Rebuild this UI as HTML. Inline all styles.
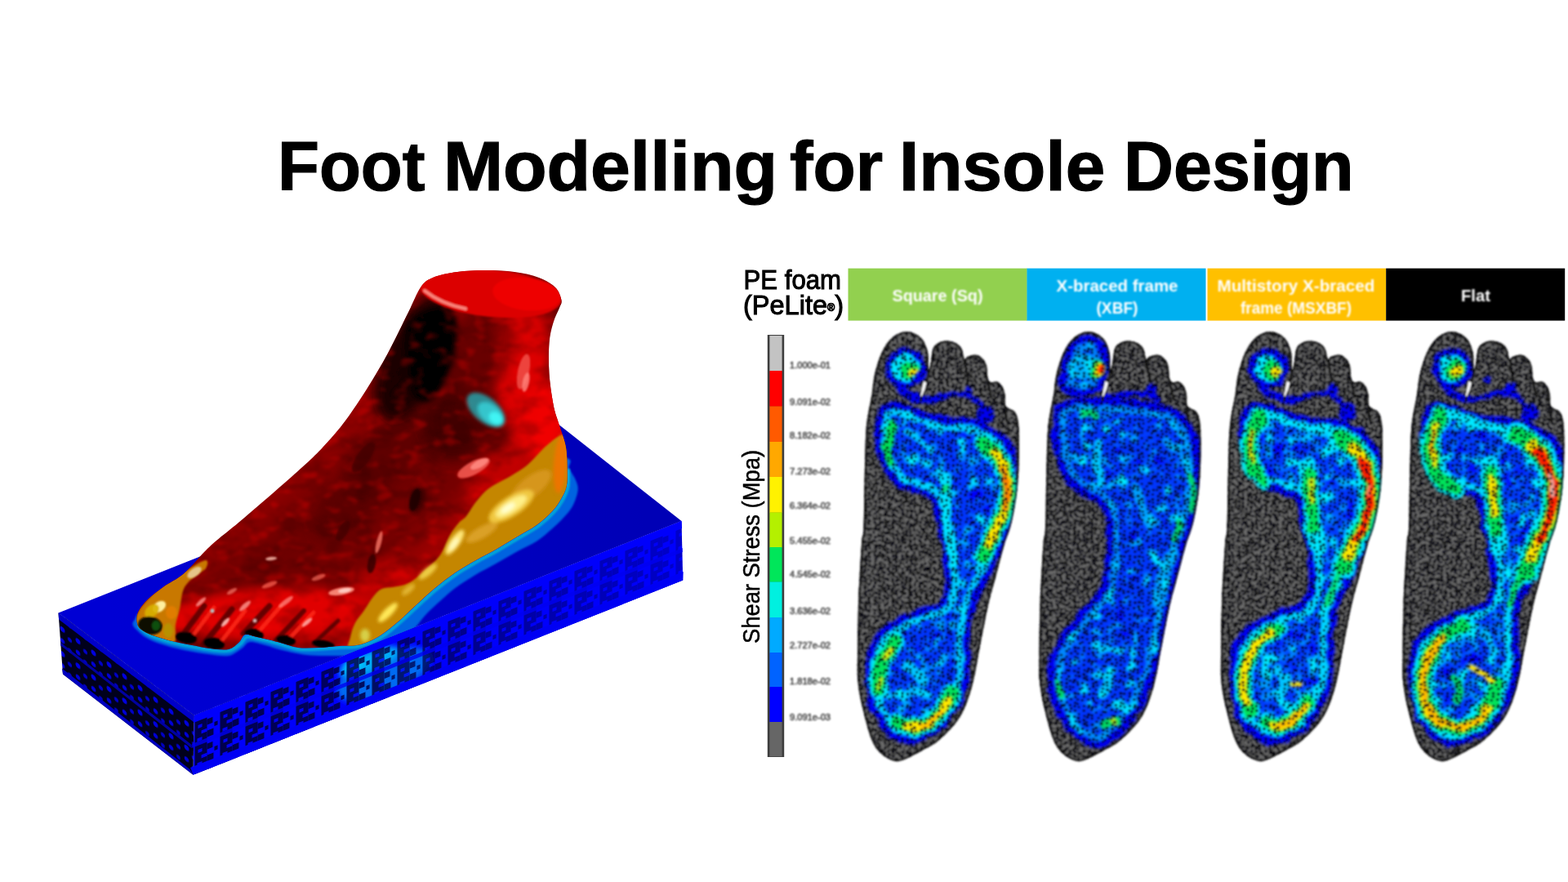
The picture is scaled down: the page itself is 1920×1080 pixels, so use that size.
<!DOCTYPE html>
<html lang="en">
<head>
<meta charset="utf-8">
<title>Foot Modelling for Insole Design</title>
<style>
html,body{margin:0;padding:0;background:#fff;}
body{width:1920px;height:1080px;position:relative;overflow:hidden;font-family:"Liberation Sans",sans-serif;}
svg{position:absolute;left:0;top:0;}

.title{position:absolute;left:0;top:0;width:1920px;height:300px;margin:0;font-weight:700;font-size:84.8px;line-height:100px;color:#000;white-space:pre;-webkit-text-stroke:1.2px #000;}
.title span{position:absolute;top:154.25px;display:block;transform-origin:0 0;}

</style>
</head>
<body>
<h1 class="title"><span style="left:340.08px;transform:scaleX(0.9832)">Foot </span><span style="left:543.09px;transform:scaleX(1.0337)">Modelling </span><span style="left:966.50px;transform:scaleX(1.0090)">for </span><span style="left:1101.11px;transform:scaleX(1.0294)">Insole </span><span style="left:1375.52px;transform:scaleX(0.9963)">Design</span></h1>
<svg width="1920" height="1080" viewBox="0 0 1920 1080">
<defs>

<linearGradient id="topg" gradientUnits="userSpaceOnUse" x1="150" y1="800" x2="780" y2="600">
<stop offset="0" stop-color="#0000d4"/><stop offset="0.45" stop-color="#0000c8"/><stop offset="1" stop-color="#0000b6"/></linearGradient>
<filter id="lb05" filterUnits="userSpaceOnUse" x="0" y="300" width="900" height="700"><feGaussianBlur stdDeviation="0.6"/></filter>
<filter id="lb1" filterUnits="userSpaceOnUse" x="0" y="300" width="900" height="700"><feGaussianBlur stdDeviation="1.0"/></filter>
<filter id="lb2" filterUnits="userSpaceOnUse" x="0" y="300" width="900" height="700"><feGaussianBlur stdDeviation="2"/></filter>
<filter id="lb3" filterUnits="userSpaceOnUse" x="0" y="300" width="900" height="700"><feGaussianBlur stdDeviation="3.5"/></filter>
<filter id="lb4" filterUnits="userSpaceOnUse" x="0" y="300" width="900" height="700"><feGaussianBlur stdDeviation="7"/></filter>
<filter id="lb6" filterUnits="userSpaceOnUse" x="0" y="300" width="900" height="700"><feGaussianBlur stdDeviation="16"/></filter>
<pattern id="latF" width="31" height="30" patternUnits="userSpaceOnUse" patternTransform="matrix(1,-0.3985,0,1,237.5,885)">
<g fill="#000048">
<path d="M1,0 h15 v30 h-15 z"/>
<path d="M16,2 h7 v7 h-7 z M16,16 h8 v8 h-8 z M25,9 h4 v5 h-4 z"/>
</g>
<g fill="#0000f0"><path d="M5,5 h5 v4 h-5 z M9,13 h7 v4 h-7 z M4,21 h6 v4 h-6 z"/></g>
</pattern>
<linearGradient id="fmaskg" gradientUnits="userSpaceOnUse" x1="240" y1="900" x2="840" y2="680">
<stop offset="0" stop-color="#fff" stop-opacity="1"/><stop offset="0.35" stop-color="#fff" stop-opacity="0.85"/><stop offset="0.7" stop-color="#fff" stop-opacity="0.45"/><stop offset="1" stop-color="#fff" stop-opacity="0.28"/></linearGradient>
<mask id="fmask" maskUnits="userSpaceOnUse" x="200" y="600" width="680" height="380"><rect x="200" y="600" width="680" height="380" fill="url(#fmaskg)"/></mask>
<pattern id="latL" width="19" height="30" patternUnits="userSpaceOnUse" patternTransform="matrix(1,0.756,0,1,71.5,759)">
<rect width="19" height="30" fill="#00001c"/>
<circle cx="5" cy="8" r="3" fill="#0000e0"/><circle cx="14" cy="14" r="2.6" fill="#0000c8"/><circle cx="5" cy="22" r="2.8" fill="#0000d8"/><circle cx="14" cy="27" r="2.4" fill="#0000c0"/>
</pattern>

<clipPath id="frontclip"><path d="M237.5,876.0 L834.5,638.0 L836.2,710.5 L236.5,948.8Z"/></clipPath>
<clipPath id="topclip"><path d="M71.5,750.5 L673.0,511.0 L834.5,638.0 L237.5,876.0Z"/></clipPath>
<clipPath id="foot3dclip"><path d="M515.0,352.0 C510.0,359.1 506.7,369.1 500.0,382.5 C493.3,395.9 483.3,417.1 475.0,432.5 C466.7,447.9 458.7,461.2 450.0,475.0 C441.3,488.8 431.3,503.8 423.0,515.0 C414.7,526.2 407.2,534.5 400.0,542.5 C392.8,550.5 388.3,555.1 380.0,563.0 C371.7,570.9 360.0,581.2 350.0,590.0 C340.0,598.8 329.7,607.7 320.0,616.0 C310.3,624.3 301.2,632.3 292.0,640.0 C282.8,647.7 272.0,656.0 265.0,662.0 C258.0,668.0 256.7,669.2 250.0,676.0 C243.3,682.8 233.3,695.4 225.0,702.5 C216.7,709.6 207.3,713.5 200.0,718.8 C192.7,724.0 185.8,729.2 181.0,733.8 C176.2,738.3 173.2,742.3 171.0,746.0 C168.8,749.7 167.7,752.3 167.5,756.0 C167.3,759.7 167.6,764.7 170.0,768.0 C172.4,771.3 177.0,773.7 182.0,776.0 C187.0,778.3 194.5,780.3 200.0,782.0 C205.5,783.7 209.2,784.7 215.0,786.0 C220.8,787.3 227.9,788.7 235.0,790.0 C242.1,791.3 250.0,793.2 257.5,794.0 C265.0,794.8 274.1,796.3 280.0,795.0 C285.9,793.7 289.7,789.0 293.0,786.0 C296.3,783.0 296.3,778.0 300.0,777.0 C303.7,776.0 308.3,778.5 315.0,780.0 C321.7,781.5 331.7,783.8 340.0,786.0 C348.3,788.2 356.7,791.8 365.0,793.0 C373.3,794.2 381.7,793.3 390.0,793.0 C398.3,792.7 407.2,791.5 415.0,791.0 C422.8,790.5 430.3,791.2 437.0,790.0 C443.7,788.8 449.5,786.5 455.0,784.0 C460.5,781.5 464.4,779.0 470.0,775.0 C475.6,771.0 482.5,765.4 488.8,760.0 C495.0,754.6 500.2,749.2 507.5,742.5 C514.8,735.8 524.2,726.9 532.5,720.0 C540.8,713.1 549.2,706.7 557.5,701.0 C565.8,695.3 574.2,690.8 582.5,686.0 C590.8,681.2 599.2,677.2 607.5,672.5 C615.8,667.8 624.2,662.5 632.5,657.5 C640.8,652.5 650.2,647.8 657.5,642.5 C664.8,637.2 671.2,631.0 676.0,626.0 C680.8,621.0 683.0,617.7 686.0,612.5 C689.0,607.3 692.3,602.1 693.8,595.0 C695.2,587.9 694.6,577.8 694.5,570.0 C694.4,562.2 694.1,554.7 693.0,548.0 C691.9,541.3 689.7,535.5 688.0,530.0 C686.3,524.5 684.8,520.8 683.0,515.0 C681.2,509.2 679.2,504.6 677.5,495.0 C675.8,485.4 673.3,470.0 672.5,457.5 C671.7,445.0 671.7,430.4 672.5,420.0 C673.3,409.6 675.4,402.2 677.5,395.0 C679.6,387.8 683.3,381.6 685.0,377.0 C686.7,372.4 688.3,371.7 687.5,367.5 C686.7,363.3 684.6,356.6 680.0,352.0 C675.4,347.4 668.3,343.2 660.0,340.0 C651.7,336.8 640.8,334.5 630.0,333.0 C619.2,331.5 606.7,331.0 595.0,331.0 C583.3,331.0 570.8,331.5 560.0,333.0 C549.2,334.5 537.5,336.8 530.0,340.0 C522.5,343.2 520.0,344.9 515.0,352.0Z"/></clipPath>

<linearGradient id="footg" gradientUnits="userSpaceOnUse" x1="330" y1="560" x2="520" y2="780">
<stop offset="0" stop-color="#b00000"/><stop offset="0.12" stop-color="#900000"/><stop offset="0.3" stop-color="#6c0000"/><stop offset="0.6" stop-color="#760000"/><stop offset="0.85" stop-color="#b80000"/><stop offset="1" stop-color="#d40000"/></linearGradient>
<filter id="rough" filterUnits="userSpaceOnUse" x="150" y="320" width="560" height="490" color-interpolation-filters="sRGB">
<feTurbulence type="fractalNoise" baseFrequency="0.035 0.06" numOctaves="3" seed="4" result="n"/>
<feColorMatrix in="n" type="matrix" values="0 0 0 0 0.1  0 0 0 0 0  0 0 0 0 0  3.5 0 0 0 -1.55"/>
<feGaussianBlur stdDeviation="1.6"/>
</filter>
<filter id="rough2" filterUnits="userSpaceOnUse" x="150" y="320" width="560" height="490" color-interpolation-filters="sRGB">
<feTurbulence type="fractalNoise" baseFrequency="0.05 0.08" numOctaves="2" seed="9" result="n"/>
<feColorMatrix in="n" type="matrix" values="0 0 0 0 1  0 0 0 0 0.05  0 0 0 0 0.02  0 4 0 0 -2.1"/>
<feGaussianBlur stdDeviation="1.6"/>
</filter>

<clipPath id="footclip"><path d="M1067.5,483.5 C1069.2,473.1 1068.9,467.2 1071.0,458.5 C1073.1,449.8 1076.4,438.5 1080.0,431.0 C1083.6,423.5 1087.5,417.7 1092.5,413.5 C1097.5,409.3 1104.2,406.0 1110.0,406.0 C1115.8,406.0 1123.2,409.3 1127.5,413.5 C1131.8,417.7 1134.4,424.6 1136.0,431.0 C1137.6,437.4 1136.4,449.5 1137.0,452.0 C1137.6,454.5 1138.6,450.2 1139.5,446.0 C1140.4,441.8 1140.8,431.4 1142.5,427.0 C1144.2,422.6 1147.1,421.1 1150.0,419.5 C1152.9,417.9 1156.7,417.4 1160.0,417.5 C1163.3,417.6 1167.1,418.4 1170.0,420.0 C1172.9,421.6 1175.7,423.7 1177.5,427.0 C1179.3,430.3 1179.8,438.4 1181.0,440.0 C1182.2,441.6 1182.7,437.4 1185.0,436.5 C1187.3,435.6 1192.0,434.1 1195.0,434.5 C1198.0,434.9 1200.8,436.8 1203.0,439.0 C1205.2,441.2 1206.9,444.0 1208.0,448.0 C1209.1,452.0 1208.7,459.7 1209.5,463.0 C1210.3,466.3 1211.1,467.2 1213.0,468.0 C1214.9,468.8 1218.7,466.7 1221.0,467.5 C1223.3,468.3 1225.4,470.4 1227.0,473.0 C1228.6,475.6 1229.8,479.2 1230.5,483.0 C1231.2,486.8 1230.1,493.1 1231.0,496.0 C1231.9,498.9 1234.0,499.0 1236.0,500.5 C1238.0,502.0 1241.2,502.1 1243.0,505.0 C1244.8,507.9 1246.2,511.3 1247.0,518.0 C1247.8,524.7 1247.9,536.2 1248.0,545.0 C1248.1,553.8 1247.8,562.5 1247.5,571.0 C1247.2,579.5 1246.8,587.7 1246.0,596.0 C1245.2,604.3 1244.0,612.7 1242.5,621.0 C1241.0,629.3 1239.1,638.5 1237.0,646.0 C1234.9,653.5 1232.8,656.4 1230.0,666.0 C1227.2,675.6 1223.3,691.0 1220.0,703.5 C1216.7,716.0 1213.3,726.4 1210.0,741.0 C1206.7,755.6 1203.3,774.3 1200.0,791.0 C1196.7,807.7 1194.2,826.4 1190.0,841.0 C1185.8,855.6 1181.7,867.7 1175.0,878.5 C1168.3,889.3 1157.5,899.3 1150.0,906.0 C1142.5,912.7 1137.5,914.3 1130.0,918.5 C1122.5,922.7 1111.2,928.9 1105.0,931.0 C1098.8,933.1 1097.0,932.5 1092.5,931.0 C1088.0,929.5 1082.2,926.3 1078.0,922.0 C1073.8,917.7 1070.7,914.3 1067.0,905.0 C1063.3,895.7 1058.8,877.7 1056.0,866.0 C1053.2,854.3 1051.5,845.4 1050.5,835.0 C1049.5,824.6 1049.9,819.2 1050.0,803.5 C1050.1,787.8 1050.2,763.9 1051.0,741.0 C1051.8,718.1 1053.9,681.8 1055.0,666.0 C1056.1,650.2 1056.8,661.8 1057.5,646.0 C1058.2,630.2 1058.4,591.8 1059.0,571.0 C1059.6,550.2 1059.6,535.6 1061.0,521.0 C1062.4,506.4 1065.8,493.9 1067.5,483.5Z"/></clipPath>
<clipPath id="cclip0"><path d="M1083.9,504.4 L1082.4,507.3 L1080.1,517.4 L1079.0,532.4 L1080.9,550.5 L1085.4,566.6 L1093.1,579.4 L1103.1,589.0 L1112.7,594.2 L1138.3,602.1 L1143.9,606.1 L1148.0,611.6 L1151.2,619.6 L1153.0,637.1 L1160.4,664.5 L1165.5,709.4 L1165.1,719.9 L1162.8,729.4 L1159.7,736.3 L1155.6,741.7 L1149.0,746.1 L1135.5,750.0 L1110.6,759.7 L1090.8,770.6 L1083.0,776.7 L1077.5,783.5 L1073.3,791.5 L1070.2,800.5 L1068.1,817.5 L1068.6,842.0 L1071.0,857.2 L1076.1,872.2 L1083.5,885.2 L1092.7,895.1 L1104.9,902.3 L1110.0,903.6 L1116.2,903.9 L1122.8,902.2 L1134.9,896.7 L1142.8,891.5 L1149.0,886.1 L1157.5,876.6 L1163.3,868.7 L1170.4,856.3 L1175.6,844.2 L1178.7,833.4 L1180.4,822.2 L1180.3,777.6 L1183.6,752.0 L1190.6,730.2 L1209.7,693.7 L1223.3,662.0 L1228.7,646.1 L1233.6,626.3 L1236.5,605.6 L1237.6,584.2 L1236.9,563.6 L1234.0,550.5 L1228.1,541.4 L1215.9,532.1 L1199.5,523.3 L1184.0,519.6 L1159.9,518.3 L1145.3,515.8 L1130.4,511.5 L1112.1,503.5 L1100.1,500.3 L1091.6,500.2 L1087.8,501.6Z"/></clipPath>
<clipPath id="cclip1"><path d="M1076.8,500.3 L1074.4,514.0 L1074.3,538.8 L1077.2,557.6 L1082.6,574.3 L1088.8,585.1 L1096.8,593.6 L1106.0,600.3 L1120.3,607.2 L1131.7,617.1 L1136.5,625.6 L1139.5,640.0 L1140.1,651.3 L1138.2,687.7 L1136.7,705.1 L1134.4,714.9 L1130.5,723.3 L1122.4,734.8 L1098.1,762.9 L1078.3,789.5 L1071.1,806.5 L1068.2,823.1 L1068.2,837.4 L1070.9,853.0 L1075.6,865.8 L1084.0,881.1 L1092.1,892.7 L1100.8,900.4 L1112.5,906.5 L1121.0,908.3 L1128.1,905.9 L1140.1,897.7 L1148.7,890.1 L1156.7,881.1 L1164.1,870.4 L1172.5,855.2 L1179.9,839.0 L1184.9,825.2 L1194.0,791.9 L1211.1,712.7 L1222.5,670.3 L1230.3,647.9 L1232.9,636.3 L1236.4,614.6 L1238.5,593.3 L1239.0,568.7 L1238.0,550.8 L1235.2,534.7 L1229.8,524.2 L1218.0,511.4 L1212.9,507.9 L1206.5,505.0 L1190.6,501.2 L1162.6,497.3 L1109.1,494.1 L1094.9,494.5 L1079.4,498.8Z"/><path d="M1082.4,473.1 L1086.7,475.2 L1093.5,476.8 L1105.9,476.6 L1116.6,473.9 L1119.8,471.7 L1123.4,467.5 L1127.1,456.5 L1128.0,442.7 L1125.2,430.6 L1121.8,423.5 L1119.3,420.5 L1112.6,418.2 L1105.0,418.7 L1099.3,421.4 L1092.7,428.8 L1088.3,436.8 L1084.7,448.1Z"/></clipPath>
<clipPath id="cclip2"><path d="M1083.9,504.4 L1082.4,507.3 L1080.0,517.5 L1079.0,529.7 L1081.7,547.6 L1086.9,566.7 L1094.6,579.4 L1104.6,589.0 L1114.2,594.2 L1139.8,602.1 L1145.4,606.1 L1149.5,611.6 L1152.7,619.6 L1154.5,637.1 L1161.9,664.5 L1165.6,703.2 L1165.8,713.9 L1163.6,726.3 L1160.1,735.5 L1155.6,741.7 L1149.0,746.1 L1135.5,750.0 L1110.6,759.7 L1090.8,770.6 L1083.0,776.7 L1077.5,783.5 L1073.3,791.5 L1070.2,800.5 L1068.1,817.5 L1068.6,842.0 L1071.0,857.2 L1076.1,872.2 L1083.5,885.2 L1092.7,895.1 L1104.9,902.3 L1110.0,903.6 L1116.2,903.9 L1122.8,902.2 L1134.9,896.7 L1142.8,891.5 L1149.0,886.1 L1157.5,876.6 L1163.3,868.7 L1170.4,856.3 L1175.6,844.2 L1178.7,833.4 L1180.4,822.2 L1180.3,777.6 L1183.6,752.0 L1190.6,730.2 L1209.7,693.7 L1223.3,662.0 L1228.7,646.1 L1233.6,626.3 L1236.5,605.6 L1237.6,584.2 L1236.9,563.6 L1234.0,550.5 L1228.1,541.4 L1215.9,532.1 L1199.5,523.3 L1184.0,519.6 L1159.9,518.3 L1145.3,515.8 L1130.4,511.5 L1112.1,503.5 L1100.1,500.3 L1091.6,500.2 L1087.8,501.6Z"/></clipPath>
<clipPath id="cclip3"><path d="M1083.9,504.4 L1082.4,507.3 L1080.1,517.4 L1079.0,532.4 L1080.9,550.5 L1085.4,566.6 L1093.1,579.4 L1103.1,589.0 L1112.7,594.2 L1138.3,602.1 L1143.9,606.1 L1148.0,611.6 L1151.2,619.6 L1153.0,637.1 L1160.4,664.5 L1165.5,709.4 L1165.1,719.9 L1162.8,729.4 L1159.7,736.3 L1155.6,741.7 L1149.0,746.1 L1132.8,751.0 L1110.8,759.7 L1085.6,772.9 L1080.0,777.0 L1074.2,783.5 L1070.2,791.4 L1067.2,800.5 L1065.1,817.5 L1065.6,842.0 L1067.9,857.2 L1073.1,872.2 L1082.2,889.1 L1089.7,897.2 L1101.9,904.3 L1108.4,905.9 L1113.5,905.9 L1121.9,904.1 L1137.2,898.4 L1144.6,894.8 L1151.0,890.0 L1157.2,883.0 L1167.2,868.6 L1174.4,856.1 L1179.6,844.2 L1182.7,833.4 L1184.5,819.3 L1184.5,775.2 L1183.6,756.8 L1184.7,746.4 L1187.3,737.6 L1191.8,727.5 L1203.1,710.9 L1210.7,696.0 L1225.3,662.0 L1230.0,648.3 L1235.1,628.9 L1238.2,608.7 L1239.6,587.2 L1239.1,566.4 L1236.7,552.3 L1234.4,547.3 L1230.1,541.4 L1218.1,532.2 L1202.2,524.3 L1184.0,519.6 L1159.9,518.3 L1145.3,515.8 L1130.4,511.5 L1112.1,503.5 L1100.1,500.3 L1091.6,500.2 L1087.8,501.6Z"/></clipPath>
<pattern id="meshdots" width="56" height="56" patternUnits="userSpaceOnUse" x="1040" y="400"><g fill="#000010" filter="url(#pb)"><circle cx="2.1" cy="1.5" r="1.79"/><circle cx="2.1" cy="57.5" r="1.79"/><circle cx="1.2" cy="8.5" r="1.62"/><circle cx="57.2" cy="8.5" r="1.62"/><circle cx="1.2" cy="14.0" r="1.42"/><circle cx="57.2" cy="14.0" r="1.42"/><circle cx="2.6" cy="18.0" r="1.45"/><circle cx="2.5" cy="26.4" r="1.47"/><circle cx="1.8" cy="31.3" r="1.97"/><circle cx="57.8" cy="31.3" r="1.97"/><circle cx="3.1" cy="36.0" r="1.99"/><circle cx="1.1" cy="43.3" r="1.57"/><circle cx="57.1" cy="43.3" r="1.57"/><circle cx="1.5" cy="46.2" r="1.59"/><circle cx="57.5" cy="46.2" r="1.59"/><circle cx="4.0" cy="52.0" r="1.75"/><circle cx="8.9" cy="5.1" r="1.73"/><circle cx="6.8" cy="9.6" r="1.52"/><circle cx="9.1" cy="16.5" r="1.59"/><circle cx="8.7" cy="22.2" r="1.58"/><circle cx="9.5" cy="28.7" r="1.55"/><circle cx="8.7" cy="33.7" r="1.93"/><circle cx="9.2" cy="38.4" r="1.99"/><circle cx="7.0" cy="44.5" r="1.85"/><circle cx="7.1" cy="50.4" r="1.42"/><circle cx="9.0" cy="1.0" r="1.74"/><circle cx="9.0" cy="57.0" r="1.74"/><circle cx="15.4" cy="2.1" r="1.82"/><circle cx="14.3" cy="8.7" r="1.67"/><circle cx="15.3" cy="15.6" r="1.68"/><circle cx="14.6" cy="18.0" r="1.82"/><circle cx="14.5" cy="27.0" r="1.89"/><circle cx="13.2" cy="30.4" r="1.80"/><circle cx="12.2" cy="36.3" r="1.50"/><circle cx="12.6" cy="40.4" r="1.86"/><circle cx="12.6" cy="46.7" r="1.63"/><circle cx="15.4" cy="51.6" r="1.67"/><circle cx="19.8" cy="7.0" r="1.89"/><circle cx="20.9" cy="10.4" r="1.65"/><circle cx="19.1" cy="18.2" r="1.97"/><circle cx="18.3" cy="21.2" r="1.54"/><circle cx="18.6" cy="27.9" r="1.75"/><circle cx="18.7" cy="31.8" r="1.65"/><circle cx="19.1" cy="39.4" r="1.97"/><circle cx="20.3" cy="44.9" r="1.77"/><circle cx="20.3" cy="48.8" r="1.94"/><circle cx="20.6" cy="1.4" r="1.88"/><circle cx="20.6" cy="57.4" r="1.88"/><circle cx="24.8" cy="2.4" r="1.46"/><circle cx="25.7" cy="6.8" r="1.44"/><circle cx="24.1" cy="12.8" r="1.60"/><circle cx="23.5" cy="17.8" r="1.49"/><circle cx="23.7" cy="24.7" r="1.42"/><circle cx="26.6" cy="31.2" r="1.49"/><circle cx="24.3" cy="35.8" r="1.62"/><circle cx="23.8" cy="43.3" r="2.00"/><circle cx="25.1" cy="47.5" r="1.45"/><circle cx="23.7" cy="52.6" r="1.56"/><circle cx="32.0" cy="4.3" r="1.41"/><circle cx="32.5" cy="11.3" r="1.49"/><circle cx="31.0" cy="15.1" r="1.72"/><circle cx="32.6" cy="23.7" r="1.82"/><circle cx="29.9" cy="27.5" r="1.50"/><circle cx="31.8" cy="33.7" r="1.87"/><circle cx="30.2" cy="38.2" r="1.89"/><circle cx="32.6" cy="46.1" r="1.88"/><circle cx="32.0" cy="51.3" r="1.54"/><circle cx="30.9" cy="-0.5" r="1.42"/><circle cx="30.9" cy="55.5" r="1.42"/><circle cx="34.7" cy="2.0" r="1.56"/><circle cx="34.7" cy="58.0" r="1.56"/><circle cx="37.1" cy="10.1" r="1.67"/><circle cx="38.0" cy="15.8" r="1.97"/><circle cx="35.9" cy="18.6" r="1.54"/><circle cx="35.3" cy="24.1" r="1.77"/><circle cx="37.9" cy="32.1" r="1.69"/><circle cx="37.0" cy="37.5" r="1.45"/><circle cx="37.0" cy="43.5" r="1.87"/><circle cx="37.3" cy="47.5" r="1.51"/><circle cx="37.5" cy="52.6" r="1.88"/><circle cx="43.7" cy="5.2" r="1.64"/><circle cx="43.7" cy="12.0" r="1.50"/><circle cx="40.6" cy="15.5" r="1.94"/><circle cx="43.1" cy="21.1" r="1.90"/><circle cx="43.8" cy="28.6" r="1.61"/><circle cx="42.2" cy="32.2" r="1.41"/><circle cx="43.7" cy="39.8" r="1.72"/><circle cx="43.6" cy="44.6" r="1.92"/><circle cx="43.2" cy="49.3" r="1.55"/><circle cx="41.2" cy="-1.0" r="1.75"/><circle cx="41.2" cy="55.0" r="1.75"/><circle cx="46.7" cy="2.5" r="1.48"/><circle cx="49.1" cy="7.9" r="1.67"/><circle cx="47.9" cy="15.5" r="1.65"/><circle cx="49.1" cy="19.6" r="1.72"/><circle cx="47.7" cy="23.4" r="1.66"/><circle cx="46.4" cy="29.0" r="1.88"/><circle cx="46.4" cy="36.3" r="1.84"/><circle cx="47.8" cy="41.4" r="1.71"/><circle cx="47.8" cy="48.7" r="1.46"/><circle cx="47.8" cy="52.3" r="1.57"/><circle cx="-1.8" cy="5.6" r="1.74"/><circle cx="54.2" cy="5.6" r="1.74"/><circle cx="-1.8" cy="12.7" r="1.67"/><circle cx="54.2" cy="12.7" r="1.67"/><circle cx="53.6" cy="16.8" r="1.71"/><circle cx="53.9" cy="22.2" r="1.72"/><circle cx="53.1" cy="29.6" r="1.82"/><circle cx="-1.4" cy="35.2" r="1.56"/><circle cx="54.6" cy="35.2" r="1.56"/><circle cx="53.4" cy="40.8" r="1.90"/><circle cx="51.9" cy="43.4" r="1.67"/><circle cx="51.6" cy="49.4" r="1.44"/><circle cx="53.8" cy="1.0" r="1.94"/><circle cx="53.8" cy="57.0" r="1.94"/></g></pattern>
<filter id="pb" filterUnits="userSpaceOnUse" x="-5" y="-5" width="70" height="70"><feGaussianBlur stdDeviation="0.55"/></filter>
<filter id="edge" filterUnits="userSpaceOnUse" x="1030" y="390" width="240" height="560"><feGaussianBlur stdDeviation="0.9"/></filter>
<filter id="tb" filterUnits="userSpaceOnUse" x="880" y="300" width="1040" height="660"><feGaussianBlur stdDeviation="1.0"/></filter>
<filter id="tb2" filterUnits="userSpaceOnUse" x="880" y="300" width="1040" height="660"><feGaussianBlur stdDeviation="0.7"/></filter>
<filter id="speck0" filterUnits="userSpaceOnUse" x="1040" y="400" width="220" height="540" color-interpolation-filters="sRGB">
<feTurbulence type="fractalNoise" baseFrequency="0.24" numOctaves="2" seed="3" result="n"/>
<feColorMatrix in="n" type="matrix" values="0 0 0 0 0.08  0 0 0 0 0.08  0 0 0 0 0.08  4 0 0 0 -1.7"/>
<feGaussianBlur stdDeviation="0.7"/>
</filter>
<filter id="mott0" filterUnits="userSpaceOnUse" x="1040" y="400" width="220" height="540" color-interpolation-filters="sRGB">
<feTurbulence type="fractalNoise" baseFrequency="0.07" numOctaves="2" seed="11" result="n"/>
<feColorMatrix in="n" type="matrix" values="0 0 0 0 0  0 3.2 0 0 -1.05  0 0 0 0 1  7 0 0 0 -3.30"/>
<feGaussianBlur stdDeviation="1.0"/>
</filter>
<filter id="heatfx0" filterUnits="userSpaceOnUse" x="1030" y="390" width="240" height="560" color-interpolation-filters="sRGB">
<feTurbulence type="fractalNoise" baseFrequency="0.07" numOctaves="2" seed="21" result="n"/>
<feDisplacementMap in="SourceGraphic" in2="n" scale="9" xChannelSelector="R" yChannelSelector="G" result="d"/>
<feGaussianBlur in="d" stdDeviation="1.5"/>
</filter>
<filter id="speck1" filterUnits="userSpaceOnUse" x="1040" y="400" width="220" height="540" color-interpolation-filters="sRGB">
<feTurbulence type="fractalNoise" baseFrequency="0.24" numOctaves="2" seed="8" result="n"/>
<feColorMatrix in="n" type="matrix" values="0 0 0 0 0.08  0 0 0 0 0.08  0 0 0 0 0.08  4 0 0 0 -1.7"/>
<feGaussianBlur stdDeviation="0.7"/>
</filter>
<filter id="mott1" filterUnits="userSpaceOnUse" x="1040" y="400" width="220" height="540" color-interpolation-filters="sRGB">
<feTurbulence type="fractalNoise" baseFrequency="0.07" numOctaves="2" seed="14" result="n"/>
<feColorMatrix in="n" type="matrix" values="0 0 0 0 0  0 3.2 0 0 -1.05  0 0 0 0 1  7 0 0 0 -3.55"/>
<feGaussianBlur stdDeviation="1.0"/>
</filter>
<filter id="heatfx1" filterUnits="userSpaceOnUse" x="1030" y="390" width="240" height="560" color-interpolation-filters="sRGB">
<feTurbulence type="fractalNoise" baseFrequency="0.07" numOctaves="2" seed="28" result="n"/>
<feDisplacementMap in="SourceGraphic" in2="n" scale="9" xChannelSelector="R" yChannelSelector="G" result="d"/>
<feGaussianBlur in="d" stdDeviation="1.5"/>
</filter>
<filter id="speck2" filterUnits="userSpaceOnUse" x="1040" y="400" width="220" height="540" color-interpolation-filters="sRGB">
<feTurbulence type="fractalNoise" baseFrequency="0.24" numOctaves="2" seed="13" result="n"/>
<feColorMatrix in="n" type="matrix" values="0 0 0 0 0.08  0 0 0 0 0.08  0 0 0 0 0.08  4 0 0 0 -1.7"/>
<feGaussianBlur stdDeviation="0.7"/>
</filter>
<filter id="mott2" filterUnits="userSpaceOnUse" x="1040" y="400" width="220" height="540" color-interpolation-filters="sRGB">
<feTurbulence type="fractalNoise" baseFrequency="0.07" numOctaves="2" seed="17" result="n"/>
<feColorMatrix in="n" type="matrix" values="0 0 0 0 0  0 3.2 0 0 -1.05  0 0 0 0 1  7 0 0 0 -2.95"/>
<feGaussianBlur stdDeviation="1.0"/>
</filter>
<filter id="heatfx2" filterUnits="userSpaceOnUse" x="1030" y="390" width="240" height="560" color-interpolation-filters="sRGB">
<feTurbulence type="fractalNoise" baseFrequency="0.07" numOctaves="2" seed="35" result="n"/>
<feDisplacementMap in="SourceGraphic" in2="n" scale="9" xChannelSelector="R" yChannelSelector="G" result="d"/>
<feGaussianBlur in="d" stdDeviation="1.5"/>
</filter>
<filter id="speck3" filterUnits="userSpaceOnUse" x="1040" y="400" width="220" height="540" color-interpolation-filters="sRGB">
<feTurbulence type="fractalNoise" baseFrequency="0.24" numOctaves="2" seed="18" result="n"/>
<feColorMatrix in="n" type="matrix" values="0 0 0 0 0.08  0 0 0 0 0.08  0 0 0 0 0.08  4 0 0 0 -1.7"/>
<feGaussianBlur stdDeviation="0.7"/>
</filter>
<filter id="mott3" filterUnits="userSpaceOnUse" x="1040" y="400" width="220" height="540" color-interpolation-filters="sRGB">
<feTurbulence type="fractalNoise" baseFrequency="0.07" numOctaves="2" seed="20" result="n"/>
<feColorMatrix in="n" type="matrix" values="0 0 0 0 0  0 3.2 0 0 -1.05  0 0 0 0 1  7 0 0 0 -2.95"/>
<feGaussianBlur stdDeviation="1.0"/>
</filter>
<filter id="heatfx3" filterUnits="userSpaceOnUse" x="1030" y="390" width="240" height="560" color-interpolation-filters="sRGB">
<feTurbulence type="fractalNoise" baseFrequency="0.07" numOctaves="2" seed="42" result="n"/>
<feDisplacementMap in="SourceGraphic" in2="n" scale="9" xChannelSelector="R" yChannelSelector="G" result="d"/>
<feGaussianBlur in="d" stdDeviation="1.5"/>
</filter>
</defs>
<g filter="url(#lb05)">
<path d="M71.5,750.5 L673.0,511.0 L834.5,638.0 L237.5,876.0Z" fill="url(#topg)"/>
<path d="M237.5,876.0 L834.5,638.0 L836.2,710.5 L236.5,948.8Z" fill="#0000fc"/>
<g clip-path="url(#frontclip)"><g filter="url(#lb3)"><ellipse cx="470" cy="826" rx="62" ry="26" transform="rotate(-22 470 826)" fill="#0070f0" opacity="0.95"/><ellipse cx="452" cy="810" rx="40" ry="12" transform="rotate(-22 452 810)" fill="#00b0f8" opacity="0.95"/><ellipse cx="432" cy="812" rx="12" ry="7" transform="rotate(-22 432 812)" fill="#00e0ff" opacity="0.9"/></g></g>
<g mask="url(#fmask)"><path d="M237.5,876.0 L834.5,638.0 L836.2,710.5 L236.5,948.8Z" fill="url(#latF)" filter="url(#lb05)"/></g>
<path d="M71.5,750.5 L237.5,876.0 L236.5,948.8 L77.0,825.5Z" fill="url(#latL)"/>
<path d="M237.5,876.0 L834.5,638.0 L835.0,647.0 L237.0,885.0Z" fill="#0000fc"/>
<path d="M235.0,911.0 L835.7,671.0 L835.9,676.0 L234.7,916.0Z" fill="#0000f0" opacity="0.8"/>
<path d="M233.0,940.0 L836.7,700.0 L836.2,710.5 L236.5,948.8Z" fill="#0000f4"/>
<path d="M71.5,750.5 L237.5,876.0 L237.0,884.0 L72.0,758.5Z" fill="#0000c8"/>
<path d="M74.0,786.5 L234.8,912.0 L234.5,916.0 L74.3,790.5Z" fill="#0000b0" opacity="0.9"/>
<path d="M76.0,818.5 L232.5,942.0 L236.5,948.8 L77.0,825.5Z" fill="#0000c0"/>
</g>
<g clip-path="url(#topclip)"><g filter="url(#lb1)"><path d="M164.0,760.0 C159.0,765.7 166.5,770.0 170.0,774.0 C173.5,778.0 179.2,781.2 185.0,784.0 C190.8,786.8 197.5,788.8 205.0,791.0 C212.5,793.2 221.7,795.3 230.0,797.0 C238.3,798.7 246.7,800.0 255.0,801.0 C263.3,802.0 273.2,804.2 280.0,803.0 C286.8,801.8 291.7,796.8 296.0,794.0 C300.3,791.2 301.2,786.7 306.0,786.0 C310.8,785.3 318.5,788.3 325.0,790.0 C331.5,791.7 336.7,794.0 345.0,796.0 C353.3,798.0 365.0,800.8 375.0,802.0 C385.0,803.2 394.8,803.0 405.0,803.0 C415.2,803.0 426.5,803.0 436.0,802.0 C445.5,801.0 453.8,799.7 462.0,797.0 C470.2,794.3 477.8,790.2 485.0,786.0 C492.2,781.8 498.8,777.7 505.0,772.0 C511.2,766.3 516.2,758.2 522.0,752.0 C527.8,745.8 534.1,740.3 540.0,735.0 C545.9,729.7 550.5,725.2 557.5,720.0 C564.5,714.8 573.7,709.0 582.0,704.0 C590.3,699.0 599.2,694.7 607.5,690.0 C615.8,685.3 623.7,680.6 632.0,676.0 C640.3,671.4 650.2,667.2 657.5,662.5 C664.8,657.8 670.8,652.1 676.0,647.5 C681.2,642.9 684.8,639.6 689.0,635.0 C693.2,630.4 697.9,625.7 701.0,620.0 C704.1,614.3 706.8,606.3 707.5,601.0 C708.2,595.7 706.8,592.5 705.0,588.0 C703.2,583.5 699.5,578.7 697.0,574.0 C694.5,569.3 706.2,562.3 690.0,560.0 C673.8,557.7 648.3,536.7 600.0,560.0 C551.7,583.3 466.7,670.0 400.0,700.0 C333.3,730.0 239.3,730.0 200.0,740.0 C160.7,750.0 169.0,754.3 164.0,760.0Z" fill="#0064e0"/></g>
<path d="M169.0,766.0 C171.2,767.8 176.8,774.0 182.0,777.0 C187.2,780.0 194.5,782.2 200.0,784.0 C205.5,785.8 209.2,786.7 215.0,788.0 C220.8,789.3 227.9,790.7 235.0,792.0 C242.1,793.3 250.0,795.2 257.5,796.0 C265.0,796.8 273.9,798.2 280.0,797.0 C286.1,795.8 290.3,791.8 294.0,789.0 C297.7,786.2 298.5,781.2 302.0,780.0 C305.5,778.8 308.7,780.7 315.0,782.0 C321.3,783.3 331.7,785.8 340.0,788.0 C348.3,790.2 356.7,793.8 365.0,795.0 C373.3,796.2 381.7,795.3 390.0,795.0 C398.3,794.7 407.2,793.5 415.0,793.0 C422.8,792.5 430.2,793.2 437.0,792.0 C443.8,790.8 450.2,788.5 456.0,786.0 C461.8,783.5 466.3,781.0 472.0,777.0 C477.7,773.0 483.8,767.4 490.0,762.0 C496.2,756.6 501.7,751.2 509.0,744.5 C516.3,737.8 525.7,728.9 534.0,722.0 C542.3,715.1 550.7,708.7 559.0,703.0 C567.3,697.3 575.7,692.8 584.0,688.0 C592.3,683.2 600.7,679.2 609.0,674.5 C617.3,669.8 625.7,664.5 634.0,659.5 C642.3,654.5 651.8,649.8 659.0,644.5 C666.2,639.2 672.7,633.1 677.5,628.0 C682.3,622.9 685.0,619.3 688.0,614.0 C691.0,608.7 694.2,602.7 695.5,596.0 C696.8,589.3 695.9,577.7 696.0,574.0" fill="none" stroke="#00b0d8" stroke-width="4" filter="url(#lb1)" opacity="0.9"/>
</g>
<g filter="url(#lb05)"><g clip-path="url(#foot3dclip)">
<rect x="150" y="320" width="560" height="490" fill="url(#footg)"/>
<g filter="url(#lb4)">
<ellipse cx="640" cy="450" rx="34" ry="95" transform="rotate(0 640 450)" fill="#dc0000" opacity="1"/>
<ellipse cx="668" cy="520" rx="24" ry="50" transform="rotate(0 668 520)" fill="#f00000" opacity="1"/>
<ellipse cx="600" cy="420" rx="30" ry="60" transform="rotate(8 600 420)" fill="#8c0000" opacity="0.9"/>
<ellipse cx="495" cy="430" rx="26" ry="80" transform="rotate(27 495 430)" fill="#5a0000" opacity="0.9"/>
<ellipse cx="470" cy="560" rx="64" ry="32" transform="rotate(-40 470 560)" fill="#5c0000" opacity="0.9"/>
<ellipse cx="430" cy="615" rx="60" ry="26" transform="rotate(-45 430 615)" fill="#580000" opacity="0.85"/>
<ellipse cx="612" cy="580" rx="50" ry="26" transform="rotate(-40 612 580)" fill="#c80000" opacity="0.85"/>
<ellipse cx="575" cy="645" rx="26" ry="40" transform="rotate(30 575 645)" fill="#a80000" opacity="0.7"/>
<ellipse cx="330" cy="752" rx="130" ry="32" transform="rotate(-3 330 752)" fill="#e00000" opacity="1"/>
<ellipse cx="480" cy="725" rx="45" ry="40" transform="rotate(0 480 725)" fill="#c40000" opacity="0.8"/>
<ellipse cx="560" cy="525" rx="34" ry="30" transform="rotate(0 560 525)" fill="#600000" opacity="0.8"/>
</g>
<g filter="url(#lb4)">
<ellipse cx="508" cy="440" rx="36" ry="82" transform="rotate(24 508 440)" fill="#140000" opacity="0.95"/>
<ellipse cx="578" cy="440" rx="30" ry="70" transform="rotate(8 578 440)" fill="#5a0000" opacity="0.7"/>
<ellipse cx="585" cy="520" rx="40" ry="32" transform="rotate(20 585 520)" fill="#560000" opacity="0.6"/>
<ellipse cx="548" cy="525" rx="30" ry="40" transform="rotate(-20 548 525)" fill="#3c0000" opacity="0.8"/>
</g>
<g filter="url(#lb3)">
<path d="M503.0,392.0 C510.2,384.7 530.8,376.0 540.0,376.0 C549.2,376.0 555.3,382.7 558.0,392.0 C560.7,401.3 558.0,420.0 556.0,432.0 C554.0,444.0 550.7,454.3 546.0,464.0 C541.3,473.7 534.3,486.3 528.0,490.0 C521.7,493.7 512.7,492.7 508.0,486.0 C503.3,479.3 501.8,461.0 500.0,450.0 C498.2,439.0 496.5,429.7 497.0,420.0 C497.5,410.3 495.8,399.3 503.0,392.0Z" fill="#000" opacity="1"/>
<ellipse cx="512" cy="612" rx="9" ry="18" transform="rotate(15 512 612)" fill="#3a0000" opacity="0.9"/>
</g>
<rect x="150" y="320" width="560" height="490" filter="url(#rough)" opacity="0.22"/>
<rect x="150" y="560" width="560" height="250" filter="url(#rough2)" opacity="0.3"/>
</g></g>
<g filter="url(#lb05)"><g clip-path="url(#foot3dclip)">
<path d="M688.0,533.0 C682.3,533.8 675.1,540.9 670.0,545.0 C664.9,549.1 661.7,553.3 657.5,557.5 C653.3,561.7 650.2,565.8 645.0,570.0 C639.8,574.2 632.2,578.8 626.0,582.5 C619.8,586.2 612.7,589.4 607.5,592.5 C602.3,595.6 599.2,597.2 595.0,601.0 C590.8,604.8 586.5,609.8 582.5,615.0 C578.5,620.2 574.4,627.8 571.0,632.0 C567.6,636.2 565.3,636.2 562.0,640.0 C558.7,643.8 554.9,648.3 551.0,655.0 C547.1,661.7 543.9,672.7 538.8,680.0 C533.6,687.3 526.3,693.1 520.0,698.8 C513.7,704.4 507.2,710.4 501.0,713.8 C494.8,717.1 488.1,717.5 482.5,718.8 C476.9,720.0 471.7,719.1 467.5,721.0 C463.3,722.9 461.2,725.4 457.5,730.0 C453.8,734.6 448.8,743.3 445.0,748.8 C441.2,754.2 437.7,757.3 435.0,762.5 C432.3,767.7 430.2,773.8 429.0,780.0 C427.8,786.2 421.2,797.5 428.0,800.0 C434.8,802.5 454.7,800.8 470.0,795.0 C485.3,789.2 505.0,775.0 520.0,765.0 C535.0,755.0 546.7,745.0 560.0,735.0 C573.3,725.0 585.0,716.7 600.0,705.0 C615.0,693.3 634.7,678.3 650.0,665.0 C665.3,651.7 682.0,639.2 692.0,625.0 C702.0,610.8 708.0,594.2 710.0,580.0 C712.0,565.8 707.7,547.8 704.0,540.0 C700.3,532.2 693.7,532.2 688.0,533.0Z" fill="#c48600" filter="url(#lb1)"/>
<g filter="url(#lb2)">
<ellipse cx="686" cy="568" rx="8" ry="36" transform="rotate(4 686 568)" fill="#ee7400" opacity="0.95"/>
<ellipse cx="650" cy="596" rx="30" ry="12" transform="rotate(-38 650 596)" fill="#d89820" opacity="0.9"/>
<ellipse cx="626" cy="620" rx="32" ry="12" transform="rotate(-33 626 620)" fill="#f0c840" opacity="1"/>
<ellipse cx="626" cy="620" rx="22" ry="7.5" transform="rotate(-33 626 620)" fill="#fff088" opacity="1"/>
<ellipse cx="622" cy="622" rx="10" ry="4" transform="rotate(-33 622 622)" fill="#ffffd0" opacity="1"/>
<ellipse cx="557" cy="664" rx="18" ry="6" transform="rotate(-55 557 664)" fill="#ffe878" opacity="1"/>
<ellipse cx="556" cy="666" rx="9" ry="3.5" transform="rotate(-55 556 666)" fill="#fff8b8" opacity="1"/>
<ellipse cx="590" cy="652" rx="22" ry="7" transform="rotate(-30 590 652)" fill="#e0a830" opacity="0.8"/>
<ellipse cx="524" cy="700" rx="14" ry="4.5" transform="rotate(-40 524 700)" fill="#f0d048" opacity="0.95"/>
<ellipse cx="500" cy="722" rx="10" ry="4" transform="rotate(-40 500 722)" fill="#e8c040" opacity="0.8"/>
<ellipse cx="475" cy="750" rx="16" ry="5" transform="rotate(-45 475 750)" fill="#ffe858" opacity="1"/>
<ellipse cx="447" cy="778" rx="6" ry="8" transform="rotate(0 447 778)" fill="#d8d850" opacity="0.9"/>
</g>
<path d="M252.0,686.0 C248.7,686.0 239.8,691.3 232.0,696.0 C224.2,700.7 212.8,708.3 205.0,714.0 C197.2,719.7 190.8,724.3 185.0,730.0 C179.2,735.7 173.2,742.7 170.0,748.0 C166.8,753.3 165.7,758.0 166.0,762.0 C166.3,766.0 167.2,768.7 172.0,772.0 C176.8,775.3 188.0,779.7 195.0,782.0 C202.0,784.3 210.7,788.8 214.0,786.0 C217.3,783.2 214.0,771.7 215.0,765.0 C216.0,758.3 218.3,753.3 220.0,746.0 C221.7,738.7 222.0,727.7 225.0,721.0 C228.0,714.3 233.5,710.2 238.0,706.0 C242.5,701.8 249.7,699.3 252.0,696.0 C254.3,692.7 255.3,686.0 252.0,686.0Z" fill="#c87800" filter="url(#lb1)"/>
<g filter="url(#lb1)">
<ellipse cx="238" cy="701" rx="10" ry="5" transform="rotate(-35 238 701)" fill="#e8c890" opacity="0.95"/>
<ellipse cx="195" cy="743" rx="9" ry="6" transform="rotate(-35 195 743)" fill="#fff0a0" opacity="1"/>
<ellipse cx="186" cy="748" rx="10" ry="7" transform="rotate(-40 186 748)" fill="#d8b000" opacity="0.9"/>
<ellipse cx="210" cy="750" rx="7" ry="8" transform="rotate(0 210 750)" fill="#e07c00" opacity="1"/>
<ellipse cx="184" cy="766" rx="15" ry="11" transform="rotate(10 184 766)" fill="#080800" opacity="1"/>
<ellipse cx="191" cy="766" rx="5" ry="6" transform="rotate(0 191 766)" fill="#0a5010" opacity="1"/>
<ellipse cx="206" cy="772" rx="6" ry="9" transform="rotate(0 206 772)" fill="#b89000" opacity="1"/>
</g>
<g filter="url(#lb1)">
<path d="M222,780 L250,742" stroke="#4a0000" stroke-width="7" stroke-linecap="round" opacity="0.8"/>
<path d="M250,788 L284,746" stroke="#4a0000" stroke-width="7" stroke-linecap="round" opacity="0.8"/>
<path d="M298,776 L330,742" stroke="#4a0000" stroke-width="7" stroke-linecap="round" opacity="0.8"/>
<path d="M338,784 L372,748" stroke="#4a0000" stroke-width="6" stroke-linecap="round" opacity="0.8"/>
<path d="M384,788 L414,760" stroke="#4a0000" stroke-width="5" stroke-linecap="round" opacity="0.8"/>
<path d="M238,776 L262,744" stroke="#ff2a1a" stroke-width="5" stroke-linecap="round" opacity="0.8"/>
<path d="M272,784 L300,748" stroke="#ff2a1a" stroke-width="5" stroke-linecap="round" opacity="0.8"/>
<path d="M318,772 L344,742" stroke="#ff2a1a" stroke-width="5" stroke-linecap="round" opacity="0.8"/>
<path d="M356,780 L384,750" stroke="#ff2a1a" stroke-width="5" stroke-linecap="round" opacity="0.8"/>
<ellipse cx="228" cy="781" rx="13" ry="7" fill="#060000" transform="rotate(10 228 781)"/>
<ellipse cx="262" cy="788" rx="13" ry="7" fill="#060000" transform="rotate(10 262 788)"/>
<ellipse cx="311" cy="777" rx="12" ry="7" fill="#060000" transform="rotate(10 311 777)"/>
<ellipse cx="350" cy="784" rx="12" ry="6" fill="#060000" transform="rotate(10 350 784)"/>
<ellipse cx="396" cy="789" rx="14" ry="5" fill="#060000" transform="rotate(10 396 789)"/>
</g>
<g filter="url(#lb1)">
<ellipse cx="580" cy="573" rx="22" ry="8" transform="rotate(-28 580 573)" fill="#f05850" opacity="0.9"/>
<ellipse cx="587" cy="568" rx="12" ry="4.5" transform="rotate(-28 587 568)" fill="#ff8880" opacity="0.9"/>
<ellipse cx="641" cy="455" rx="7" ry="22" transform="rotate(12 641 455)" fill="#f05048" opacity="0.85"/>
<ellipse cx="644" cy="468" rx="4" ry="12" transform="rotate(12 644 468)" fill="#ff8078" opacity="0.85"/>
<ellipse cx="418" cy="724" rx="16" ry="4.5" transform="rotate(-10 418 724)" fill="#ff9080" opacity="0.9"/>
<ellipse cx="422" cy="723" rx="8" ry="2.5" transform="rotate(-10 422 723)" fill="#ffd8d0" opacity="0.85"/>
<ellipse cx="332" cy="684" rx="7" ry="2.2" transform="rotate(-5 332 684)" fill="#ffc0b0" opacity="0.8"/>
<ellipse cx="464" cy="664" rx="3" ry="14" transform="rotate(14 464 664)" fill="#f87868" opacity="0.8"/>
<ellipse cx="350" cy="737" rx="11" ry="3" transform="rotate(-38 350 737)" fill="#ff8a80" opacity="0.75"/>
<ellipse cx="300" cy="742" rx="9" ry="3" transform="rotate(-42 300 742)" fill="#ff9890" opacity="0.8"/>
<ellipse cx="276" cy="762" rx="7" ry="2.5" transform="rotate(-48 276 762)" fill="#ffc8c0" opacity="0.85"/>
<ellipse cx="246" cy="737" rx="8" ry="2.5" transform="rotate(-42 246 737)" fill="#ffa098" opacity="0.75"/>
<ellipse cx="376" cy="762" rx="8" ry="2.5" transform="rotate(-40 376 762)" fill="#ffb8b0" opacity="0.8"/>
<ellipse cx="330" cy="716" rx="10" ry="3" transform="rotate(-20 330 716)" fill="#f86050" opacity="0.75"/>
<ellipse cx="390" cy="707" rx="9" ry="3" transform="rotate(-20 390 707)" fill="#f87060" opacity="0.65"/>
<ellipse cx="284" cy="724" rx="7" ry="2.5" transform="rotate(-30 284 724)" fill="#f88070" opacity="0.65"/>
<ellipse cx="260" cy="748" rx="2.5" ry="2.5" transform="rotate(0 260 748)" fill="#a0e8f0" opacity="0.8"/>
<ellipse cx="312" cy="760" rx="2.5" ry="2.5" transform="rotate(0 312 760)" fill="#ffffff" opacity="0.7"/>
<ellipse cx="508" cy="612" rx="6" ry="14" transform="rotate(15 508 612)" fill="#200000" opacity="0.9"/>
<ellipse cx="455" cy="690" rx="5" ry="12" transform="rotate(10 455 690)" fill="#300000" opacity="0.8"/>
<ellipse cx="420" cy="650" rx="6" ry="14" transform="rotate(30 420 650)" fill="#400000" opacity="0.7"/>
<ellipse cx="445" cy="560" rx="8" ry="22" transform="rotate(35 445 560)" fill="#400000" opacity="0.7"/>
</g>
<g filter="url(#lb2)">
<ellipse cx="595" cy="502" rx="28" ry="15" transform="rotate(40 595 502)" fill="#2898a0" opacity="0.9"/>
<ellipse cx="601" cy="507" rx="19" ry="11" transform="rotate(40 601 507)" fill="#38c8d0" opacity="0.95"/>
<ellipse cx="607" cy="512" rx="9" ry="7" transform="rotate(38 607 512)" fill="#40f4f4" opacity="1"/>
</g>
<g filter="url(#lb1)">
<ellipse cx="601" cy="359" rx="87" ry="29" transform="rotate(6 601 359)" fill="#dc0000" opacity="1"/>
<ellipse cx="645" cy="360" rx="42" ry="20" transform="rotate(6 645 360)" fill="#ee0000" opacity="1"/>
<path d="M520,356 Q540,372 570,378" stroke="#ff9c90" stroke-width="4" fill="none" opacity="0.85" stroke-linecap="round"/>
</g>
</g></g>
<g filter="url(#tb2)" font-family="'Liberation Sans',sans-serif" fill="#000" stroke="#000" stroke-width="1.1"><text x="910.5" y="353.5" font-size="34" textLength="119.5" lengthAdjust="spacingAndGlyphs">PE foam</text><text x="910" y="385" font-size="34" textLength="123" lengthAdjust="spacingAndGlyphs">(PeLite<tspan font-size="13" dy="-4">®</tspan><tspan dy="4">)</tspan></text></g>
<g filter="url(#tb2)">
<rect x="1038.5" y="328.6" width="219.3" height="64" fill="#92d050"/>
<rect x="1257.5" y="328.6" width="219.0" height="64" fill="#00b0f0"/>
<rect x="1478.5" y="328.6" width="218.8" height="64" fill="#ffc000"/>
<rect x="1697.2" y="328.6" width="219.0" height="64" fill="#000000"/>
</g>
<g filter="url(#tb)" font-family="'Liberation Sans',sans-serif" font-weight="700" font-size="20" fill="#fff" text-anchor="middle"><text x="1148" y="369" textLength="111" lengthAdjust="spacingAndGlyphs">Square (Sq)</text><text x="1368" y="357.3" textLength="149" lengthAdjust="spacingAndGlyphs">X-braced frame</text><text x="1368" y="383.6" textLength="51" lengthAdjust="spacingAndGlyphs">(XBF)</text><text x="1587" y="357.3" textLength="193" lengthAdjust="spacingAndGlyphs">Multistory X-braced</text><text x="1587" y="383.6" textLength="136" lengthAdjust="spacingAndGlyphs">frame (MSXBF)</text><text x="1807" y="369" textLength="36" lengthAdjust="spacingAndGlyphs">Flat</text></g>
<g filter="url(#tb2)">
<rect x="939.8" y="410" width="20.4" height="517" fill="#3c3c3c"/>
<rect x="942.4" y="411" width="15.2" height="43.3" fill="#c3c3c3"/>
<rect x="942.4" y="454" width="15.2" height="43.8" fill="#ff0000"/>
<rect x="942.4" y="497.5" width="15.2" height="43.8" fill="#ff5a00"/>
<rect x="942.4" y="541" width="15.2" height="43.3" fill="#ffa800"/>
<rect x="942.4" y="584" width="15.2" height="43.8" fill="#fff200"/>
<rect x="942.4" y="627.5" width="15.2" height="42.8" fill="#b4f000"/>
<rect x="942.4" y="670" width="15.2" height="42.8" fill="#00e65a"/>
<rect x="942.4" y="712.5" width="15.2" height="43.8" fill="#00f0e0"/>
<rect x="942.4" y="756" width="15.2" height="43.3" fill="#00aaff"/>
<rect x="942.4" y="799" width="15.2" height="42.3" fill="#0064ff"/>
<rect x="942.4" y="841" width="15.2" height="43.3" fill="#0000ff"/>
<rect x="942.4" y="884" width="15.2" height="42.3" fill="#666666"/>
</g>
<g filter="url(#tb)" font-family="'Liberation Sans',sans-serif" font-size="10.5" fill="#000" stroke="#000" stroke-width="0.45" opacity="0.8">
<text x="967" y="450.8" textLength="50" lengthAdjust="spacingAndGlyphs">1.000e-01</text>
<text x="967" y="495.8" textLength="50" lengthAdjust="spacingAndGlyphs">9.091e-02</text>
<text x="967" y="537.3" textLength="50" lengthAdjust="spacingAndGlyphs">8.182e-02</text>
<text x="967" y="580.8" textLength="50" lengthAdjust="spacingAndGlyphs">7.273e-02</text>
<text x="967" y="623.3" textLength="50" lengthAdjust="spacingAndGlyphs">6.364e-02</text>
<text x="967" y="665.8" textLength="50" lengthAdjust="spacingAndGlyphs">5.455e-02</text>
<text x="967" y="707.3" textLength="50" lengthAdjust="spacingAndGlyphs">4.545e-02</text>
<text x="967" y="751.8" textLength="50" lengthAdjust="spacingAndGlyphs">3.636e-02</text>
<text x="967" y="794.3" textLength="50" lengthAdjust="spacingAndGlyphs">2.727e-02</text>
<text x="967" y="838.3" textLength="50" lengthAdjust="spacingAndGlyphs">1.818e-02</text>
<text x="967" y="881.8" textLength="50" lengthAdjust="spacingAndGlyphs">9.091e-03</text>
</g>
<g filter="url(#tb2)"><text transform="translate(929.5,788) rotate(-90)" font-family="'Liberation Sans',sans-serif" font-size="30" fill="#000" stroke="#000" stroke-width="0.5" textLength="237" lengthAdjust="spacingAndGlyphs">Shear Stress (Mpa)</text></g>
<g transform="translate(0.0,0)"><g filter="url(#edge)"><g clip-path="url(#footclip)"><rect x="1040" y="400" width="220" height="540" fill="#6a6a6a"/><rect x="1040" y="400" width="220" height="540" filter="url(#speck0)"/><g filter="url(#heatfx0)"><path d="M1078.0,499.0 C1081.2,495.7 1086.3,492.7 1092.0,492.0 C1097.7,491.3 1104.7,492.8 1112.0,495.0 C1119.3,497.2 1128.3,502.5 1136.0,505.0 C1143.7,507.5 1150.7,509.0 1158.0,510.0 C1165.3,511.0 1173.0,510.2 1180.0,511.0 C1187.0,511.8 1193.7,512.8 1200.0,515.0 C1206.3,517.2 1212.3,520.5 1218.0,524.0 C1223.7,527.5 1229.8,531.3 1234.0,536.0 C1238.2,540.7 1241.1,545.5 1243.0,552.0 C1244.9,558.5 1245.2,567.0 1245.5,575.0 C1245.8,583.0 1245.6,591.7 1245.0,600.0 C1244.4,608.3 1243.3,617.3 1242.0,625.0 C1240.7,632.7 1238.8,639.7 1237.0,646.0 C1235.2,652.3 1233.5,657.7 1231.5,663.0 C1229.5,668.3 1227.4,672.3 1225.0,678.0 C1222.6,683.7 1219.8,690.8 1217.0,697.0 C1214.2,703.2 1211.0,709.3 1208.0,715.0 C1205.0,720.7 1201.7,725.0 1199.0,731.0 C1196.3,737.0 1193.8,743.7 1192.0,751.0 C1190.2,758.3 1189.1,766.8 1188.5,775.0 C1187.9,783.2 1188.6,791.5 1188.5,800.0 C1188.4,808.5 1189.1,817.7 1188.0,826.0 C1186.9,834.3 1185.3,841.7 1182.0,850.0 C1178.7,858.3 1173.3,868.3 1168.0,876.0 C1162.7,883.7 1156.0,890.8 1150.0,896.0 C1144.0,901.2 1137.8,904.3 1132.0,907.0 C1126.2,909.7 1120.7,911.8 1115.0,912.0 C1109.3,912.2 1103.5,910.7 1098.0,908.0 C1092.5,905.3 1086.7,901.0 1082.0,896.0 C1077.3,891.0 1073.2,884.7 1070.0,878.0 C1066.8,871.3 1064.2,864.2 1062.5,856.0 C1060.8,847.8 1060.0,838.1 1060.0,828.5 C1060.0,818.9 1060.0,807.7 1062.5,798.5 C1065.0,789.3 1068.8,780.6 1075.0,773.5 C1081.2,766.4 1090.8,761.0 1100.0,756.0 C1109.2,751.0 1121.7,746.8 1130.0,743.5 C1138.3,740.2 1145.4,740.6 1150.0,736.0 C1154.6,731.4 1156.7,723.5 1157.5,716.0 C1158.3,708.5 1155.8,699.3 1155.0,691.0 C1154.2,682.7 1153.7,672.8 1152.5,666.0 C1151.3,659.2 1149.3,655.2 1148.0,650.0 C1146.7,644.8 1145.3,640.0 1144.5,635.0 C1143.7,630.0 1144.4,624.2 1143.0,620.0 C1141.6,615.8 1139.8,612.5 1136.0,610.0 C1132.2,607.5 1125.3,606.8 1120.0,605.0 C1114.7,603.2 1109.0,601.8 1104.0,599.0 C1099.0,596.2 1094.2,592.5 1090.0,588.0 C1085.8,583.5 1081.8,578.0 1079.0,572.0 C1076.2,566.0 1074.3,559.0 1073.0,552.0 C1071.7,545.0 1071.0,536.7 1071.0,530.0 C1071.0,523.3 1071.8,517.2 1073.0,512.0 C1074.2,506.8 1074.8,502.3 1078.0,499.0Z" fill="#0004f0"/><ellipse cx="1109.0" cy="451.0" rx="25" ry="25" fill="#0004f0" opacity="1.0"/><path d="M1100.0,474.0 C1101.7,475.3 1105.8,479.7 1110.0,482.0 C1114.2,484.3 1120.0,486.8 1125.0,488.0 C1130.0,489.2 1137.5,488.8 1140.0,489.0" fill="none" stroke="#0004f0" stroke-width="9" stroke-linecap="round" stroke-linejoin="round" opacity="1.0"/><path d="M1140.0,489.0 C1142.5,488.3 1150.3,486.2 1155.0,485.0 C1159.7,483.8 1163.5,482.5 1168.0,482.0 C1172.5,481.5 1177.5,480.7 1182.0,482.0 C1186.5,483.3 1191.0,486.7 1195.0,490.0 C1199.0,493.3 1204.2,500.0 1206.0,502.0" fill="none" stroke="#0004f0" stroke-width="6" stroke-linecap="round" stroke-linejoin="round" opacity="1.0"/><ellipse cx="1207.0" cy="507.0" rx="11" ry="11" fill="#0004f0" opacity="1.0"/><ellipse cx="1187.0" cy="478.0" rx="5" ry="5" fill="#0004f0" opacity="1.0"/><path d="M1087.6,507.8 L1084.3,523.9 L1084.5,539.7 L1087.9,558.7 L1093.6,571.5 L1100.8,580.4 L1110.3,587.6 L1136.5,596.0 L1143.6,599.5 L1150.0,605.5 L1154.5,613.5 L1156.6,621.4 L1157.9,636.0 L1165.4,664.1 L1170.5,708.9 L1170.0,720.5 L1167.6,730.9 L1163.9,739.1 L1159.1,745.3 L1150.8,750.8 L1137.0,754.8 L1112.7,764.3 L1093.6,774.8 L1083.1,784.1 L1079.1,790.9 L1075.9,799.0 L1073.3,814.1 L1073.1,835.1 L1074.7,850.7 L1078.8,865.6 L1086.3,880.5 L1094.4,889.9 L1105.2,897.0 L1114.6,899.0 L1121.1,897.5 L1132.5,892.3 L1139.8,887.6 L1145.5,882.5 L1159.1,866.0 L1165.9,854.0 L1170.9,842.5 L1173.8,832.4 L1175.4,821.8 L1175.4,777.4 L1178.7,751.0 L1186.0,728.3 L1205.2,691.6 L1218.7,660.1 L1223.8,644.7 L1228.7,625.4 L1231.2,608.2 L1232.6,587.1 L1232.1,566.8 L1230.0,554.0 L1224.4,544.7 L1213.2,536.3 L1197.6,528.0 L1183.3,524.5 L1159.4,523.2 L1144.1,520.7 L1128.7,516.2 L1110.3,508.2 L1099.3,505.3 L1092.7,505.1Z" fill="#0044ff" opacity="0.8"/><g clip-path="url(#cclip0)"><rect x="1040" y="400" width="220" height="540" filter="url(#mott0)" opacity="0.95"/></g><path d="M1087.6,507.8 L1084.3,523.9 L1084.5,539.7 L1087.9,558.7 L1093.6,571.5 L1100.8,580.4 L1110.3,587.6 L1136.5,596.0 L1143.6,599.5 L1150.0,605.5 L1154.5,613.5 L1156.6,621.4 L1157.9,636.0 L1165.4,664.1 L1170.5,708.9 L1170.0,720.5 L1167.6,730.9 L1163.9,739.1 L1159.1,745.3 L1150.8,750.8 L1137.0,754.8 L1112.7,764.3 L1093.6,774.8 L1083.1,784.1 L1079.1,790.9 L1075.9,799.0 L1073.3,814.1 L1073.1,835.1 L1074.7,850.7 L1078.8,865.6 L1086.3,880.5 L1094.4,889.9 L1105.2,897.0 L1114.6,899.0 L1121.1,897.5 L1132.5,892.3 L1139.8,887.6 L1145.5,882.5 L1159.1,866.0 L1165.9,854.0 L1170.9,842.5 L1173.8,832.4 L1175.4,821.8 L1175.4,777.4 L1178.7,751.0 L1186.0,728.3 L1205.2,691.6 L1218.7,660.1 L1223.8,644.7 L1228.7,625.4 L1231.2,608.2 L1232.6,587.1 L1232.1,566.8 L1230.0,554.0 L1224.4,544.7 L1213.2,536.3 L1197.6,528.0 L1183.3,524.5 L1159.4,523.2 L1144.1,520.7 L1128.7,516.2 L1110.3,508.2 L1099.3,505.3 L1092.7,505.1Z" fill="none" stroke="#00e8ff" stroke-width="8.5" stroke-linejoin="round" opacity="0.85"/><ellipse cx="1109.0" cy="451.0" rx="17" ry="17" fill="#00e8ff" opacity="1.0"/><ellipse cx="1113.0" cy="454.0" rx="12" ry="9" fill="#00e25a" opacity="1.0" transform="rotate(-25 1113.0 454.0)"/><ellipse cx="1118.0" cy="456.0" rx="8" ry="5" fill="#ffe600" opacity="1.0" transform="rotate(-25 1118.0 456.0)"/><path d="M1093.0,520.0 C1092.0,524.2 1087.5,537.5 1087.0,545.0 C1086.5,552.5 1089.5,561.7 1090.0,565.0" fill="none" stroke="#00e25a" stroke-width="10.85" stroke-linecap="round" stroke-linejoin="round" opacity="1.0"/><path d="M1157.0,585.0 C1157.3,589.2 1158.7,600.8 1159.0,610.0 C1159.3,619.2 1158.3,630.8 1159.0,640.0 C1159.7,649.2 1161.5,656.7 1163.0,665.0 C1164.5,673.3 1167.2,685.8 1168.0,690.0" fill="none" stroke="#00e8ff" stroke-width="12.4" stroke-linecap="round" stroke-linejoin="round" opacity="0.95"/><ellipse cx="1157.0" cy="598.0" rx="5" ry="5" fill="#00e25a" opacity="0.8"/><path d="M1110.0,528.0 C1112.5,529.7 1120.0,534.0 1125.0,538.0 C1130.0,542.0 1137.5,549.7 1140.0,552.0" fill="none" stroke="#00e8ff" stroke-width="9.3" stroke-linecap="round" stroke-linejoin="round" opacity="0.8"/><path d="M1203.0,543.0 C1205.3,544.8 1212.8,549.5 1217.0,554.0 C1221.2,558.5 1225.2,564.0 1228.0,570.0 C1230.8,576.0 1233.0,583.7 1234.0,590.0 C1235.0,596.3 1234.7,602.1 1234.0,608.0 C1233.3,613.9 1231.6,619.8 1229.6,625.5 C1227.6,631.2 1224.2,637.4 1222.0,642.0 C1219.8,646.6 1218.7,648.7 1216.7,653.0 C1214.7,657.3 1212.2,663.3 1210.0,668.0 C1207.8,672.7 1204.8,678.8 1203.7,681.0" fill="none" stroke="#00e8ff" stroke-width="23.25" stroke-linecap="round" stroke-linejoin="round" opacity="1.0"/><path d="M1203.0,543.0 C1205.3,544.8 1212.8,549.5 1217.0,554.0 C1221.2,558.5 1225.2,564.0 1228.0,570.0 C1230.8,576.0 1233.0,583.7 1234.0,590.0 C1235.0,596.3 1234.7,602.1 1234.0,608.0 C1233.3,613.9 1231.6,619.8 1229.6,625.5 C1227.6,631.2 1224.2,637.4 1222.0,642.0 C1219.8,646.6 1218.7,648.7 1216.7,653.0 C1214.7,657.3 1212.2,663.3 1210.0,668.0 C1207.8,672.7 1204.8,678.8 1203.7,681.0" fill="none" stroke="#00e25a" stroke-width="15.5" stroke-linecap="round" stroke-linejoin="round" opacity="1.0"/><path d="M1217.0,554.0 C1218.0,555.2 1221.2,558.8 1223.0,561.4 C1224.8,564.1 1226.6,566.9 1228.0,570.0 C1229.4,573.1 1230.7,576.5 1231.7,579.9 C1232.7,583.2 1233.5,586.8 1234.0,590.0 C1234.5,593.2 1234.7,596.2 1234.7,599.2 C1234.7,602.2 1234.4,605.1 1234.0,608.0 C1233.6,610.9 1233.0,613.9 1232.3,616.8 C1231.5,619.8 1230.7,622.6 1229.6,625.5 C1228.5,628.4 1227.1,631.4 1225.9,634.2 C1224.6,636.9 1223.1,639.8 1222.0,642.0 C1220.9,644.2 1220.2,645.8 1219.3,647.6 C1218.4,649.4 1217.7,650.9 1216.7,653.0 C1215.7,655.1 1214.5,657.9 1213.4,660.4 C1212.3,662.9 1210.6,666.7 1210.0,668.0" fill="none" stroke="#ffe600" stroke-width="10.075000000000001" stroke-linecap="round" stroke-linejoin="round" opacity="1.0"/><path d="M1230.0,585.0 C1230.7,587.2 1233.5,593.5 1234.0,598.0 C1234.5,602.5 1233.2,609.7 1233.0,612.0" fill="none" stroke="#ff1e00" stroke-width="6.9750000000000005" stroke-linecap="round" stroke-linejoin="round" opacity="1.0"/><path d="M1228.0,575.0 C1229.1,578.8 1234.0,590.2 1234.5,598.0 C1235.0,605.8 1231.6,618.0 1231.0,622.0" fill="none" stroke="#ff8a00" stroke-width="7.75" stroke-linecap="round" stroke-linejoin="round" opacity="0.9"/><path d="M1096.0,786.0 C1093.7,789.3 1085.3,799.3 1082.0,806.0 C1078.7,812.7 1077.0,819.3 1076.0,826.0 C1075.0,832.7 1076.0,842.7 1076.0,846.0" fill="none" stroke="#00e8ff" stroke-width="23.25" stroke-linecap="round" stroke-linejoin="round" opacity="1.0"/><path d="M1096.0,786.0 C1093.7,789.3 1085.3,799.3 1082.0,806.0 C1078.7,812.7 1077.0,819.3 1076.0,826.0 C1075.0,832.7 1076.0,842.7 1076.0,846.0" fill="none" stroke="#00e25a" stroke-width="15.5" stroke-linecap="round" stroke-linejoin="round" opacity="1.0"/><path d="M1090.0,795.0 L1084.0,806.0" fill="none" stroke="#ffe600" stroke-width="6.2" stroke-linecap="round" stroke-linejoin="round" opacity="0.9"/><path d="M1078.0,830.0 L1077.0,842.0" fill="none" stroke="#ffe600" stroke-width="5.425" stroke-linecap="round" stroke-linejoin="round" opacity="0.8"/><path d="M1100.0,884.0 C1102.3,885.0 1109.3,889.2 1114.0,890.0 C1118.7,890.8 1123.7,890.0 1128.0,889.0 C1132.3,888.0 1136.0,886.8 1140.0,884.0 C1144.0,881.2 1148.7,876.0 1152.0,872.0 C1155.3,868.0 1157.7,864.0 1160.0,860.0 C1162.3,856.0 1165.0,850.0 1166.0,848.0" fill="none" stroke="#00e8ff" stroke-width="23.25" stroke-linecap="round" stroke-linejoin="round" opacity="1.0"/><path d="M1100.0,884.0 C1102.3,885.0 1109.3,889.2 1114.0,890.0 C1118.7,890.8 1123.7,890.0 1128.0,889.0 C1132.3,888.0 1136.0,886.8 1140.0,884.0 C1144.0,881.2 1148.7,876.0 1152.0,872.0 C1155.3,868.0 1157.7,864.0 1160.0,860.0 C1162.3,856.0 1165.0,850.0 1166.0,848.0" fill="none" stroke="#00e25a" stroke-width="15.5" stroke-linecap="round" stroke-linejoin="round" opacity="1.0"/><path d="M1108.8,888.3 C1110.1,888.6 1113.9,890.0 1116.4,890.3 C1118.8,890.6 1121.2,890.2 1123.5,889.9 C1125.8,889.6 1128.0,889.1 1130.1,888.5 C1132.2,887.9 1134.1,887.3 1136.1,886.3 C1138.1,885.3 1140.0,884.1 1142.0,882.4 C1144.1,880.7 1146.4,878.3 1148.3,876.3 C1150.2,874.2 1152.0,872.0 1153.6,870.0 C1155.1,868.0 1156.4,866.0 1157.6,864.0 C1158.9,862.0 1160.6,858.9 1161.2,857.9" fill="none" stroke="#ffe600" stroke-width="10.075000000000001" stroke-linecap="round" stroke-linejoin="round" opacity="1.0"/><path d="M1128.0,889.0 C1130.3,887.8 1138.0,885.0 1142.0,882.0 C1146.0,879.0 1150.3,872.8 1152.0,871.0" fill="none" stroke="#ffb400" stroke-width="6.2" stroke-linecap="round" stroke-linejoin="round" opacity="0.8"/><path d="M1110.0,815.0 C1112.0,816.2 1118.7,818.7 1122.0,822.0 C1125.3,825.3 1128.7,832.8 1130.0,835.0" fill="none" stroke="#00e8ff" stroke-width="10.85" stroke-linecap="round" stroke-linejoin="round" opacity="0.8"/><path d="M1112.0,850.0 C1113.7,849.3 1118.3,846.0 1122.0,846.0 C1125.7,846.0 1132.0,849.3 1134.0,850.0" fill="none" stroke="#00e8ff" stroke-width="10.85" stroke-linecap="round" stroke-linejoin="round" opacity="0.7"/></g><rect x="1040" y="400" width="220" height="540" fill="url(#meshdots)" opacity="0.9"/><path d="M1137.5,448.0 C1137.2,450.3 1137.1,457.0 1136.0,462.0 C1134.9,467.0 1132.5,473.3 1131.0,478.0 C1129.5,482.7 1127.7,488.0 1127.0,490.0" fill="none" stroke="#101010" stroke-width="3.2" stroke-linecap="round" opacity="0.8"/><path d="M1181.5,438.0 C1181.8,440.3 1182.2,447.3 1183.0,452.0 C1183.8,456.7 1185.5,463.7 1186.0,466.0" fill="none" stroke="#101010" stroke-width="3.2" stroke-linecap="round" opacity="0.8"/><path d="M1210.0,462.0 C1210.2,464.0 1210.3,470.0 1211.0,474.0 C1211.7,478.0 1213.5,484.0 1214.0,486.0" fill="none" stroke="#101010" stroke-width="3.2" stroke-linecap="round" opacity="0.8"/><path d="M1231.0,494.0 C1231.0,495.8 1230.7,501.3 1231.0,505.0 C1231.3,508.7 1232.7,514.2 1233.0,516.0" fill="none" stroke="#101010" stroke-width="3.2" stroke-linecap="round" opacity="0.8"/><path d="M1067.5,483.5 C1069.2,473.1 1068.9,467.2 1071.0,458.5 C1073.1,449.8 1076.4,438.5 1080.0,431.0 C1083.6,423.5 1087.5,417.7 1092.5,413.5 C1097.5,409.3 1104.2,406.0 1110.0,406.0 C1115.8,406.0 1123.2,409.3 1127.5,413.5 C1131.8,417.7 1134.4,424.6 1136.0,431.0 C1137.6,437.4 1136.4,449.5 1137.0,452.0 C1137.6,454.5 1138.6,450.2 1139.5,446.0 C1140.4,441.8 1140.8,431.4 1142.5,427.0 C1144.2,422.6 1147.1,421.1 1150.0,419.5 C1152.9,417.9 1156.7,417.4 1160.0,417.5 C1163.3,417.6 1167.1,418.4 1170.0,420.0 C1172.9,421.6 1175.7,423.7 1177.5,427.0 C1179.3,430.3 1179.8,438.4 1181.0,440.0 C1182.2,441.6 1182.7,437.4 1185.0,436.5 C1187.3,435.6 1192.0,434.1 1195.0,434.5 C1198.0,434.9 1200.8,436.8 1203.0,439.0 C1205.2,441.2 1206.9,444.0 1208.0,448.0 C1209.1,452.0 1208.7,459.7 1209.5,463.0 C1210.3,466.3 1211.1,467.2 1213.0,468.0 C1214.9,468.8 1218.7,466.7 1221.0,467.5 C1223.3,468.3 1225.4,470.4 1227.0,473.0 C1228.6,475.6 1229.8,479.2 1230.5,483.0 C1231.2,486.8 1230.1,493.1 1231.0,496.0 C1231.9,498.9 1234.0,499.0 1236.0,500.5 C1238.0,502.0 1241.2,502.1 1243.0,505.0 C1244.8,507.9 1246.2,511.3 1247.0,518.0 C1247.8,524.7 1247.9,536.2 1248.0,545.0 C1248.1,553.8 1247.8,562.5 1247.5,571.0 C1247.2,579.5 1246.8,587.7 1246.0,596.0 C1245.2,604.3 1244.0,612.7 1242.5,621.0 C1241.0,629.3 1239.1,638.5 1237.0,646.0 C1234.9,653.5 1232.8,656.4 1230.0,666.0 C1227.2,675.6 1223.3,691.0 1220.0,703.5 C1216.7,716.0 1213.3,726.4 1210.0,741.0 C1206.7,755.6 1203.3,774.3 1200.0,791.0 C1196.7,807.7 1194.2,826.4 1190.0,841.0 C1185.8,855.6 1181.7,867.7 1175.0,878.5 C1168.3,889.3 1157.5,899.3 1150.0,906.0 C1142.5,912.7 1137.5,914.3 1130.0,918.5 C1122.5,922.7 1111.2,928.9 1105.0,931.0 C1098.8,933.1 1097.0,932.5 1092.5,931.0 C1088.0,929.5 1082.2,926.3 1078.0,922.0 C1073.8,917.7 1070.7,914.3 1067.0,905.0 C1063.3,895.7 1058.8,877.7 1056.0,866.0 C1053.2,854.3 1051.5,845.4 1050.5,835.0 C1049.5,824.6 1049.9,819.2 1050.0,803.5 C1050.1,787.8 1050.2,763.9 1051.0,741.0 C1051.8,718.1 1053.9,681.8 1055.0,666.0 C1056.1,650.2 1056.8,661.8 1057.5,646.0 C1058.2,630.2 1058.4,591.8 1059.0,571.0 C1059.6,550.2 1059.6,535.6 1061.0,521.0 C1062.4,506.4 1065.8,493.9 1067.5,483.5Z" fill="none" stroke="#0c0c0c" stroke-width="5" opacity="0.7"/></g><path d="M1131.5,468 Q1130,476 1128,485 Q1132,477 1133.5,469Z" fill="#fff" stroke="#fff" stroke-width="1.6"/></g></g>
<g transform="translate(222.5,0)"><g filter="url(#edge)"><g clip-path="url(#footclip)"><rect x="1040" y="400" width="220" height="540" fill="#6a6a6a"/><rect x="1040" y="400" width="220" height="540" filter="url(#speck1)"/><g filter="url(#heatfx1)"><path d="M1070.0,496.0 C1073.2,490.8 1080.0,490.7 1085.0,489.0 C1090.0,487.3 1093.0,486.3 1100.0,486.0 C1107.0,485.7 1118.7,486.7 1127.0,487.0 C1135.3,487.3 1141.7,487.3 1150.0,488.0 C1158.3,488.7 1168.7,489.8 1177.0,491.0 C1185.3,492.2 1193.3,493.3 1200.0,495.0 C1206.7,496.7 1211.7,497.8 1217.0,501.0 C1222.3,504.2 1227.8,509.2 1232.0,514.0 C1236.2,518.8 1239.7,524.0 1242.0,530.0 C1244.3,536.0 1245.2,542.5 1246.0,550.0 C1246.8,557.5 1247.0,566.7 1247.0,575.0 C1247.0,583.3 1246.7,591.7 1246.0,600.0 C1245.3,608.3 1244.3,616.7 1243.0,625.0 C1241.7,633.3 1240.0,642.5 1238.0,650.0 C1236.0,657.5 1233.2,663.0 1231.0,670.0 C1228.8,677.0 1227.2,684.0 1225.0,692.0 C1222.8,700.0 1220.2,709.2 1218.0,718.0 C1215.8,726.8 1214.0,735.5 1212.0,745.0 C1210.0,754.5 1208.2,765.0 1206.0,775.0 C1203.8,785.0 1201.7,795.0 1199.0,805.0 C1196.3,815.0 1193.5,825.5 1190.0,835.0 C1186.5,844.5 1182.5,853.5 1178.0,862.0 C1173.5,870.5 1168.5,879.0 1163.0,886.0 C1157.5,893.0 1151.5,899.0 1145.0,904.0 C1138.5,909.0 1130.7,914.7 1124.0,916.0 C1117.3,917.3 1111.0,914.7 1105.0,912.0 C1099.0,909.3 1093.2,905.3 1088.0,900.0 C1082.8,894.7 1078.0,887.0 1074.0,880.0 C1070.0,873.0 1066.3,865.5 1064.0,858.0 C1061.7,850.5 1060.3,843.0 1060.0,835.0 C1059.7,827.0 1060.3,817.8 1062.0,810.0 C1063.7,802.2 1066.3,795.0 1070.0,788.0 C1073.7,781.0 1079.0,774.7 1084.0,768.0 C1089.0,761.3 1094.7,754.3 1100.0,748.0 C1105.3,741.7 1111.5,736.0 1116.0,730.0 C1120.5,724.0 1124.7,718.7 1127.0,712.0 C1129.3,705.3 1129.3,697.7 1130.0,690.0 C1130.7,682.3 1130.7,673.3 1131.0,666.0 C1131.3,658.7 1132.5,652.7 1132.0,646.0 C1131.5,639.3 1130.7,631.3 1128.0,626.0 C1125.3,620.7 1120.7,617.3 1116.0,614.0 C1111.3,610.7 1105.3,609.7 1100.0,606.0 C1094.7,602.3 1088.5,597.7 1084.0,592.0 C1079.5,586.3 1075.8,579.7 1073.0,572.0 C1070.2,564.3 1068.2,554.7 1067.0,546.0 C1065.8,537.3 1065.5,528.3 1066.0,520.0 C1066.5,511.7 1066.8,501.2 1070.0,496.0Z" fill="#0004f0"/><path d="M1076.0,478.0 C1072.7,473.8 1074.7,466.0 1075.0,460.0 C1075.3,454.0 1076.3,447.7 1078.0,442.0 C1079.7,436.3 1082.0,430.7 1085.0,426.0 C1088.0,421.3 1091.8,416.7 1096.0,414.0 C1100.2,411.3 1105.3,410.0 1110.0,410.0 C1114.7,410.0 1120.3,411.3 1124.0,414.0 C1127.7,416.7 1130.0,421.3 1132.0,426.0 C1134.0,430.7 1135.5,436.7 1136.0,442.0 C1136.5,447.3 1136.0,453.0 1135.0,458.0 C1134.0,463.0 1132.8,468.0 1130.0,472.0 C1127.2,476.0 1123.8,479.8 1118.0,482.0 C1112.2,484.2 1102.0,485.7 1095.0,485.0 C1088.0,484.3 1079.3,482.2 1076.0,478.0Z" fill="#0004f0"/><path d="M1130.0,486.0 C1133.3,485.7 1143.7,484.7 1150.0,484.0 C1156.3,483.3 1162.7,482.3 1168.0,482.0 C1173.3,481.7 1177.5,480.7 1182.0,482.0 C1186.5,483.3 1192.8,488.7 1195.0,490.0" fill="none" stroke="#0004f0" stroke-width="7" stroke-linecap="round" stroke-linejoin="round" opacity="1.0"/><ellipse cx="1187.0" cy="477.0" rx="7" ry="7" fill="#0004f0" opacity="1.0"/><path d="M1080.9,503.6 L1078.8,523.6 L1079.2,538.3 L1082.1,556.5 L1087.1,572.2 L1092.9,582.2 L1100.1,589.8 L1108.5,595.9 L1123.6,603.4 L1135.5,613.8 L1141.3,624.1 L1144.5,639.6 L1145.1,651.5 L1143.2,688.0 L1141.6,706.2 L1139.1,716.7 L1134.7,725.9 L1128.1,735.6 L1102.0,766.0 L1082.7,792.0 L1075.9,807.8 L1073.2,823.5 L1073.1,837.0 L1075.1,849.3 L1079.1,861.3 L1086.7,876.0 L1094.4,887.6 L1102.0,895.2 L1112.3,901.0 L1120.7,903.3 L1127.8,900.3 L1139.1,892.0 L1147.1,884.5 L1154.5,875.6 L1161.5,864.9 L1169.6,849.9 L1180.1,823.7 L1190.0,787.1 L1206.2,711.5 L1217.8,668.9 L1225.5,646.6 L1228.0,635.3 L1231.5,613.9 L1233.5,593.0 L1234.0,571.9 L1233.1,551.4 L1230.4,536.3 L1225.7,527.0 L1214.8,515.3 L1205.0,509.8 L1181.3,504.7 L1143.4,500.6 L1100.6,499.0 L1094.6,499.7Z" fill="#0044ff" opacity="0.8"/><path d="M1087.1,470.1 L1096.1,472.0 L1107.7,471.3 L1115.1,469.0 L1119.7,463.9 L1122.5,453.9 L1123.1,443.2 L1120.6,432.4 L1116.1,424.4 L1110.0,423.0 L1104.5,424.2 L1100.7,426.9 L1096.0,433.0 L1092.3,440.4 L1089.6,449.2Z" fill="#0044ff" opacity="0.8"/><g clip-path="url(#cclip1)"><rect x="1040" y="400" width="220" height="540" filter="url(#mott1)" opacity="0.95"/></g><path d="M1080.9,503.6 L1078.8,523.6 L1079.2,538.3 L1082.1,556.5 L1087.1,572.2 L1092.9,582.2 L1100.1,589.8 L1108.5,595.9 L1123.6,603.4 L1135.5,613.8 L1141.3,624.1 L1144.5,639.6 L1145.1,651.5 L1143.2,688.0 L1141.6,706.2 L1139.1,716.7 L1134.7,725.9 L1128.1,735.6 L1102.0,766.0 L1082.7,792.0 L1075.9,807.8 L1073.2,823.5 L1073.1,837.0 L1075.1,849.3 L1079.1,861.3 L1086.7,876.0 L1094.4,887.6 L1102.0,895.2 L1112.3,901.0 L1120.7,903.3 L1127.8,900.3 L1139.1,892.0 L1147.1,884.5 L1154.5,875.6 L1161.5,864.9 L1169.6,849.9 L1180.1,823.7 L1190.0,787.1 L1206.2,711.5 L1217.8,668.9 L1225.5,646.6 L1228.0,635.3 L1231.5,613.9 L1233.5,593.0 L1234.0,571.9 L1233.1,551.4 L1230.4,536.3 L1225.7,527.0 L1214.8,515.3 L1205.0,509.8 L1181.3,504.7 L1143.4,500.6 L1100.6,499.0 L1094.6,499.7Z" fill="none" stroke="#00e8ff" stroke-width="8.5" stroke-linejoin="round" opacity="0.5"/><path d="M1087.1,470.1 L1096.1,472.0 L1107.7,471.3 L1115.1,469.0 L1119.7,463.9 L1122.5,453.9 L1123.1,443.2 L1120.6,432.4 L1116.1,424.4 L1110.0,423.0 L1104.5,424.2 L1100.7,426.9 L1096.0,433.0 L1092.3,440.4 L1089.6,449.2Z" fill="none" stroke="#00e8ff" stroke-width="8.5" stroke-linejoin="round" opacity="0.5"/><ellipse cx="1105.0" cy="448.0" rx="16" ry="16" fill="#00e8ff" opacity="0.7"/><ellipse cx="1119.0" cy="452.0" rx="11" ry="11" fill="#00e8ff" opacity="0.9"/><ellipse cx="1122.0" cy="453.0" rx="9" ry="12" fill="#00e25a" opacity="1.0" transform="rotate(15 1122.0 453.0)"/><ellipse cx="1124.0" cy="454.0" rx="6" ry="9" fill="#ffe600" opacity="1.0" transform="rotate(15 1124.0 454.0)"/><ellipse cx="1126.0" cy="453.0" rx="3.5" ry="6" fill="#ff1e00" opacity="1.0" transform="rotate(15 1126.0 453.0)"/><path d="M1105.0,506.0 L1118.0,507.0" fill="none" stroke="#00e25a" stroke-width="9.3" stroke-linecap="round" stroke-linejoin="round" opacity="0.9"/><path d="M1205.0,540.0 C1207.8,542.7 1217.2,549.7 1222.0,556.0 C1226.8,562.3 1231.3,570.7 1234.0,578.0 C1236.7,585.3 1237.3,596.3 1238.0,600.0" fill="none" stroke="#00e8ff" stroke-width="9.3" stroke-linecap="round" stroke-linejoin="round" opacity="0.5"/><path d="M1236.0,585.0 C1236.5,588.3 1239.0,598.3 1239.0,605.0 C1239.0,611.7 1236.5,621.7 1236.0,625.0" fill="none" stroke="#00e25a" stroke-width="7.75" stroke-linecap="round" stroke-linejoin="round" opacity="0.9"/><path d="M1222.0,640.0 L1216.0,660.0" fill="none" stroke="#00e25a" stroke-width="9.3" stroke-linecap="round" stroke-linejoin="round" opacity="0.9"/><path d="M1122.0,545.0 C1121.7,549.2 1119.3,562.5 1120.0,570.0 C1120.7,577.5 1125.0,586.7 1126.0,590.0" fill="none" stroke="#00e8ff" stroke-width="10.85" stroke-linecap="round" stroke-linejoin="round" opacity="0.8"/><path d="M1168.0,595.0 C1169.3,599.2 1173.0,611.7 1176.0,620.0 C1179.0,628.3 1184.3,640.8 1186.0,645.0" fill="none" stroke="#00e8ff" stroke-width="10.85" stroke-linecap="round" stroke-linejoin="round" opacity="0.6"/><path d="M1212.0,672.0 C1210.3,676.7 1205.3,689.5 1202.0,700.0 C1198.7,710.5 1193.7,729.2 1192.0,735.0" fill="none" stroke="#00e8ff" stroke-width="9.3" stroke-linecap="round" stroke-linejoin="round" opacity="0.6"/><path d="M1073.0,835.0 L1076.0,852.0" fill="none" stroke="#00e25a" stroke-width="7.75" stroke-linecap="round" stroke-linejoin="round" opacity="0.9"/><path d="M1128.0,888.0 L1148.0,882.0" fill="none" stroke="#00e25a" stroke-width="9.3" stroke-linecap="round" stroke-linejoin="round" opacity="0.95"/><ellipse cx="1142.0" cy="884.0" rx="4" ry="4" fill="#ffe600" opacity="0.8"/><path d="M1125.0,795.0 L1150.0,796.0" fill="none" stroke="#00e8ff" stroke-width="9.3" stroke-linecap="round" stroke-linejoin="round" opacity="0.8"/><path d="M1120.0,826.0 C1122.5,826.7 1133.7,826.0 1135.0,830.0 C1136.3,834.0 1129.2,846.7 1128.0,850.0" fill="none" stroke="#00e8ff" stroke-width="10.85" stroke-linecap="round" stroke-linejoin="round" opacity="0.8"/><path d="M1150.0,862.0 L1158.0,870.0" fill="none" stroke="#00e8ff" stroke-width="10.85" stroke-linecap="round" stroke-linejoin="round" opacity="0.9"/></g><rect x="1040" y="400" width="220" height="540" fill="url(#meshdots)" opacity="0.9"/><path d="M1137.5,448.0 C1137.2,450.3 1137.1,457.0 1136.0,462.0 C1134.9,467.0 1132.5,473.3 1131.0,478.0 C1129.5,482.7 1127.7,488.0 1127.0,490.0" fill="none" stroke="#101010" stroke-width="3.2" stroke-linecap="round" opacity="0.8"/><path d="M1181.5,438.0 C1181.8,440.3 1182.2,447.3 1183.0,452.0 C1183.8,456.7 1185.5,463.7 1186.0,466.0" fill="none" stroke="#101010" stroke-width="3.2" stroke-linecap="round" opacity="0.8"/><path d="M1210.0,462.0 C1210.2,464.0 1210.3,470.0 1211.0,474.0 C1211.7,478.0 1213.5,484.0 1214.0,486.0" fill="none" stroke="#101010" stroke-width="3.2" stroke-linecap="round" opacity="0.8"/><path d="M1231.0,494.0 C1231.0,495.8 1230.7,501.3 1231.0,505.0 C1231.3,508.7 1232.7,514.2 1233.0,516.0" fill="none" stroke="#101010" stroke-width="3.2" stroke-linecap="round" opacity="0.8"/><path d="M1067.5,483.5 C1069.2,473.1 1068.9,467.2 1071.0,458.5 C1073.1,449.8 1076.4,438.5 1080.0,431.0 C1083.6,423.5 1087.5,417.7 1092.5,413.5 C1097.5,409.3 1104.2,406.0 1110.0,406.0 C1115.8,406.0 1123.2,409.3 1127.5,413.5 C1131.8,417.7 1134.4,424.6 1136.0,431.0 C1137.6,437.4 1136.4,449.5 1137.0,452.0 C1137.6,454.5 1138.6,450.2 1139.5,446.0 C1140.4,441.8 1140.8,431.4 1142.5,427.0 C1144.2,422.6 1147.1,421.1 1150.0,419.5 C1152.9,417.9 1156.7,417.4 1160.0,417.5 C1163.3,417.6 1167.1,418.4 1170.0,420.0 C1172.9,421.6 1175.7,423.7 1177.5,427.0 C1179.3,430.3 1179.8,438.4 1181.0,440.0 C1182.2,441.6 1182.7,437.4 1185.0,436.5 C1187.3,435.6 1192.0,434.1 1195.0,434.5 C1198.0,434.9 1200.8,436.8 1203.0,439.0 C1205.2,441.2 1206.9,444.0 1208.0,448.0 C1209.1,452.0 1208.7,459.7 1209.5,463.0 C1210.3,466.3 1211.1,467.2 1213.0,468.0 C1214.9,468.8 1218.7,466.7 1221.0,467.5 C1223.3,468.3 1225.4,470.4 1227.0,473.0 C1228.6,475.6 1229.8,479.2 1230.5,483.0 C1231.2,486.8 1230.1,493.1 1231.0,496.0 C1231.9,498.9 1234.0,499.0 1236.0,500.5 C1238.0,502.0 1241.2,502.1 1243.0,505.0 C1244.8,507.9 1246.2,511.3 1247.0,518.0 C1247.8,524.7 1247.9,536.2 1248.0,545.0 C1248.1,553.8 1247.8,562.5 1247.5,571.0 C1247.2,579.5 1246.8,587.7 1246.0,596.0 C1245.2,604.3 1244.0,612.7 1242.5,621.0 C1241.0,629.3 1239.1,638.5 1237.0,646.0 C1234.9,653.5 1232.8,656.4 1230.0,666.0 C1227.2,675.6 1223.3,691.0 1220.0,703.5 C1216.7,716.0 1213.3,726.4 1210.0,741.0 C1206.7,755.6 1203.3,774.3 1200.0,791.0 C1196.7,807.7 1194.2,826.4 1190.0,841.0 C1185.8,855.6 1181.7,867.7 1175.0,878.5 C1168.3,889.3 1157.5,899.3 1150.0,906.0 C1142.5,912.7 1137.5,914.3 1130.0,918.5 C1122.5,922.7 1111.2,928.9 1105.0,931.0 C1098.8,933.1 1097.0,932.5 1092.5,931.0 C1088.0,929.5 1082.2,926.3 1078.0,922.0 C1073.8,917.7 1070.7,914.3 1067.0,905.0 C1063.3,895.7 1058.8,877.7 1056.0,866.0 C1053.2,854.3 1051.5,845.4 1050.5,835.0 C1049.5,824.6 1049.9,819.2 1050.0,803.5 C1050.1,787.8 1050.2,763.9 1051.0,741.0 C1051.8,718.1 1053.9,681.8 1055.0,666.0 C1056.1,650.2 1056.8,661.8 1057.5,646.0 C1058.2,630.2 1058.4,591.8 1059.0,571.0 C1059.6,550.2 1059.6,535.6 1061.0,521.0 C1062.4,506.4 1065.8,493.9 1067.5,483.5Z" fill="none" stroke="#0c0c0c" stroke-width="5" opacity="0.7"/></g><path d="M1131.5,468 Q1130,476 1128,485 Q1132,477 1133.5,469Z" fill="#fff" stroke="#fff" stroke-width="1.6"/></g></g>
<g transform="translate(445.0,0)"><g filter="url(#edge)"><g clip-path="url(#footclip)"><rect x="1040" y="400" width="220" height="540" fill="#6a6a6a"/><rect x="1040" y="400" width="220" height="540" filter="url(#speck2)"/><g filter="url(#heatfx2)"><path d="M1078.0,499.0 C1081.2,495.7 1086.3,492.7 1092.0,492.0 C1097.7,491.3 1104.7,492.8 1112.0,495.0 C1119.3,497.2 1128.3,502.5 1136.0,505.0 C1143.7,507.5 1150.7,509.0 1158.0,510.0 C1165.3,511.0 1173.0,510.2 1180.0,511.0 C1187.0,511.8 1193.7,512.8 1200.0,515.0 C1206.3,517.2 1212.3,520.5 1218.0,524.0 C1223.7,527.5 1229.8,531.3 1234.0,536.0 C1238.2,540.7 1241.1,545.5 1243.0,552.0 C1244.9,558.5 1245.2,567.0 1245.5,575.0 C1245.8,583.0 1245.6,591.7 1245.0,600.0 C1244.4,608.3 1243.3,617.3 1242.0,625.0 C1240.7,632.7 1238.8,639.7 1237.0,646.0 C1235.2,652.3 1233.5,657.7 1231.5,663.0 C1229.5,668.3 1227.4,672.3 1225.0,678.0 C1222.6,683.7 1219.8,690.8 1217.0,697.0 C1214.2,703.2 1211.0,709.3 1208.0,715.0 C1205.0,720.7 1201.7,725.0 1199.0,731.0 C1196.3,737.0 1193.8,743.7 1192.0,751.0 C1190.2,758.3 1189.1,766.8 1188.5,775.0 C1187.9,783.2 1188.6,791.5 1188.5,800.0 C1188.4,808.5 1189.1,817.7 1188.0,826.0 C1186.9,834.3 1185.3,841.7 1182.0,850.0 C1178.7,858.3 1173.3,868.3 1168.0,876.0 C1162.7,883.7 1156.0,890.8 1150.0,896.0 C1144.0,901.2 1137.8,904.3 1132.0,907.0 C1126.2,909.7 1120.7,911.8 1115.0,912.0 C1109.3,912.2 1103.5,910.7 1098.0,908.0 C1092.5,905.3 1086.7,901.0 1082.0,896.0 C1077.3,891.0 1073.2,884.7 1070.0,878.0 C1066.8,871.3 1064.2,864.2 1062.5,856.0 C1060.8,847.8 1060.0,838.1 1060.0,828.5 C1060.0,818.9 1060.0,807.7 1062.5,798.5 C1065.0,789.3 1068.8,780.6 1075.0,773.5 C1081.2,766.4 1090.8,761.0 1100.0,756.0 C1109.2,751.0 1121.7,746.8 1130.0,743.5 C1138.3,740.2 1145.4,740.6 1150.0,736.0 C1154.6,731.4 1156.4,723.5 1157.5,716.0 C1158.6,708.5 1157.1,699.3 1156.5,691.0 C1155.9,682.7 1155.2,672.8 1154.0,666.0 C1152.8,659.2 1150.8,655.2 1149.5,650.0 C1148.2,644.8 1146.8,640.0 1146.0,635.0 C1145.2,630.0 1145.9,624.2 1144.5,620.0 C1143.1,615.8 1141.3,612.5 1137.5,610.0 C1133.7,607.5 1126.8,606.8 1121.5,605.0 C1116.2,603.2 1110.5,601.8 1105.5,599.0 C1100.5,596.2 1095.7,592.5 1091.5,588.0 C1087.3,583.5 1083.3,578.0 1080.5,572.0 C1077.7,566.0 1076.1,559.0 1074.5,552.0 C1072.9,545.0 1071.2,536.7 1071.0,530.0 C1070.8,523.3 1071.8,517.2 1073.0,512.0 C1074.2,506.8 1074.8,502.3 1078.0,499.0Z" fill="#0004f0"/><ellipse cx="1108.0" cy="451.0" rx="25" ry="25" fill="#0004f0" opacity="1.0"/><path d="M1100.0,474.0 C1101.7,475.3 1105.8,479.7 1110.0,482.0 C1114.2,484.3 1120.0,486.8 1125.0,488.0 C1130.0,489.2 1137.5,488.8 1140.0,489.0" fill="none" stroke="#0004f0" stroke-width="9" stroke-linecap="round" stroke-linejoin="round" opacity="1.0"/><path d="M1140.0,489.0 C1142.5,488.3 1150.3,486.2 1155.0,485.0 C1159.7,483.8 1163.5,482.5 1168.0,482.0 C1172.5,481.5 1177.5,480.7 1182.0,482.0 C1186.5,483.3 1191.0,486.7 1195.0,490.0 C1199.0,493.3 1204.2,500.0 1206.0,502.0" fill="none" stroke="#0004f0" stroke-width="6" stroke-linecap="round" stroke-linejoin="round" opacity="1.0"/><ellipse cx="1205.0" cy="505.0" rx="11" ry="11" fill="#0004f0" opacity="1.0"/><ellipse cx="1185.0" cy="476.0" rx="7" ry="7" fill="#0004f0" opacity="1.0"/><path d="M1087.6,507.8 L1084.4,522.1 L1084.3,533.8 L1089.5,558.8 L1095.1,571.5 L1102.3,580.4 L1111.8,587.6 L1138.0,596.0 L1145.1,599.5 L1150.7,604.5 L1155.3,612.0 L1157.8,619.6 L1159.4,636.0 L1166.8,664.0 L1170.6,703.0 L1170.7,714.4 L1168.3,728.1 L1164.6,737.7 L1159.1,745.3 L1150.8,750.8 L1137.0,754.8 L1112.7,764.3 L1093.6,774.8 L1086.5,780.3 L1081.7,786.2 L1077.9,793.4 L1075.1,801.8 L1073.3,814.1 L1073.3,838.4 L1075.2,853.4 L1079.7,867.9 L1086.3,880.5 L1094.4,889.9 L1105.2,897.0 L1114.6,899.0 L1121.1,897.5 L1132.5,892.3 L1139.8,887.6 L1145.5,882.5 L1159.1,866.0 L1165.9,854.0 L1170.9,842.5 L1173.8,832.4 L1175.4,821.8 L1175.4,777.4 L1178.7,751.0 L1186.0,728.3 L1205.2,691.6 L1218.7,660.1 L1223.8,644.7 L1228.7,625.4 L1231.2,608.2 L1232.6,587.1 L1232.1,566.8 L1230.0,554.0 L1224.4,544.7 L1213.2,536.3 L1197.6,528.0 L1183.3,524.5 L1159.4,523.2 L1144.1,520.7 L1128.7,516.2 L1110.3,508.2 L1099.3,505.3 L1092.7,505.1Z" fill="#0044ff" opacity="0.8"/><g clip-path="url(#cclip2)"><rect x="1040" y="400" width="220" height="540" filter="url(#mott2)" opacity="0.95"/></g><path d="M1087.6,507.8 L1084.4,522.1 L1084.3,533.8 L1089.5,558.8 L1095.1,571.5 L1102.3,580.4 L1111.8,587.6 L1138.0,596.0 L1145.1,599.5 L1150.7,604.5 L1155.3,612.0 L1157.8,619.6 L1159.4,636.0 L1166.8,664.0 L1170.6,703.0 L1170.7,714.4 L1168.3,728.1 L1164.6,737.7 L1159.1,745.3 L1150.8,750.8 L1137.0,754.8 L1112.7,764.3 L1093.6,774.8 L1086.5,780.3 L1081.7,786.2 L1077.9,793.4 L1075.1,801.8 L1073.3,814.1 L1073.3,838.4 L1075.2,853.4 L1079.7,867.9 L1086.3,880.5 L1094.4,889.9 L1105.2,897.0 L1114.6,899.0 L1121.1,897.5 L1132.5,892.3 L1139.8,887.6 L1145.5,882.5 L1159.1,866.0 L1165.9,854.0 L1170.9,842.5 L1173.8,832.4 L1175.4,821.8 L1175.4,777.4 L1178.7,751.0 L1186.0,728.3 L1205.2,691.6 L1218.7,660.1 L1223.8,644.7 L1228.7,625.4 L1231.2,608.2 L1232.6,587.1 L1232.1,566.8 L1230.0,554.0 L1224.4,544.7 L1213.2,536.3 L1197.6,528.0 L1183.3,524.5 L1159.4,523.2 L1144.1,520.7 L1128.7,516.2 L1110.3,508.2 L1099.3,505.3 L1092.7,505.1Z" fill="none" stroke="#00e8ff" stroke-width="8.5" stroke-linejoin="round" opacity="0.9"/><ellipse cx="1108.0" cy="451.0" rx="17" ry="17" fill="#00e8ff" opacity="1.0"/><ellipse cx="1112.0" cy="453.0" rx="12" ry="12" fill="#00e25a" opacity="1.0"/><ellipse cx="1117.0" cy="455.0" rx="7" ry="5" fill="#ffe600" opacity="1.0"/><path d="M1098.0,510.0 C1096.3,513.3 1090.2,523.3 1088.0,530.0 C1085.8,536.7 1084.7,543.0 1085.0,550.0 C1085.3,557.0 1087.5,565.7 1090.0,572.0 C1092.5,578.3 1098.3,585.3 1100.0,588.0" fill="none" stroke="#00e8ff" stroke-width="23.25" stroke-linecap="round" stroke-linejoin="round" opacity="1.0"/><path d="M1098.0,510.0 C1096.3,513.3 1090.2,523.3 1088.0,530.0 C1085.8,536.7 1084.7,543.0 1085.0,550.0 C1085.3,557.0 1087.5,565.7 1090.0,572.0 C1092.5,578.3 1098.3,585.3 1100.0,588.0" fill="none" stroke="#00e25a" stroke-width="15.5" stroke-linecap="round" stroke-linejoin="round" opacity="1.0"/><path d="M1089.0,528.0 C1088.5,531.3 1086.0,541.7 1086.0,548.0 C1086.0,554.3 1088.5,563.0 1089.0,566.0" fill="none" stroke="#ffe600" stroke-width="6.2" stroke-linecap="round" stroke-linejoin="round" opacity="0.9"/><path d="M1088.0,532.0 L1086.0,546.0" fill="none" stroke="#ffa000" stroke-width="3.875" stroke-linecap="round" stroke-linejoin="round" opacity="0.8"/><path d="M1110.0,507.0 C1114.2,508.7 1126.7,514.0 1135.0,517.0 C1143.3,520.0 1151.7,522.0 1160.0,525.0 C1168.3,528.0 1180.8,533.3 1185.0,535.0" fill="none" stroke="#00e8ff" stroke-width="9.3" stroke-linecap="round" stroke-linejoin="round" opacity="0.8"/><path d="M1195.0,535.0 C1197.8,537.2 1206.8,542.8 1212.0,548.0 C1217.2,553.2 1222.5,559.0 1226.0,566.0 C1229.5,573.0 1231.7,582.3 1233.0,590.0 C1234.3,597.7 1234.5,605.3 1234.0,612.0 C1233.5,618.7 1232.0,624.0 1230.0,630.0 C1228.0,636.0 1224.8,642.2 1222.0,648.0 C1219.2,653.8 1215.7,659.7 1213.0,665.0 C1210.3,670.3 1208.2,674.8 1206.0,680.0 C1203.8,685.2 1201.0,693.3 1200.0,696.0" fill="none" stroke="#00e8ff" stroke-width="28.416666666666664" stroke-linecap="round" stroke-linejoin="round" opacity="1.0"/><path d="M1195.0,535.0 C1197.8,537.2 1206.8,542.8 1212.0,548.0 C1217.2,553.2 1222.5,559.0 1226.0,566.0 C1229.5,573.0 1231.7,582.3 1233.0,590.0 C1234.3,597.7 1234.5,605.3 1234.0,612.0 C1233.5,618.7 1232.0,624.0 1230.0,630.0 C1228.0,636.0 1224.8,642.2 1222.0,648.0 C1219.2,653.8 1215.7,659.7 1213.0,665.0 C1210.3,670.3 1208.2,674.8 1206.0,680.0 C1203.8,685.2 1201.0,693.3 1200.0,696.0" fill="none" stroke="#00e25a" stroke-width="18.944444444444443" stroke-linecap="round" stroke-linejoin="round" opacity="1.0"/><path d="M1212.0,548.0 C1213.3,549.4 1217.3,553.3 1219.6,556.3 C1222.0,559.3 1224.2,562.4 1226.0,566.0 C1227.8,569.6 1229.1,573.8 1230.3,577.8 C1231.5,581.8 1232.4,586.1 1233.0,590.0 C1233.6,593.9 1234.0,597.7 1234.2,601.4 C1234.4,605.0 1234.3,608.7 1234.0,612.0 C1233.7,615.3 1233.2,618.2 1232.6,621.2 C1231.9,624.2 1231.0,627.0 1230.0,630.0 C1229.0,633.0 1227.6,636.1 1226.3,639.1 C1225.0,642.1 1223.5,645.1 1222.0,648.0 C1220.5,650.9 1218.9,653.9 1217.4,656.7 C1215.9,659.5 1214.4,662.4 1213.0,665.0 C1211.6,667.6 1210.5,670.1 1209.3,672.6 C1208.1,675.1 1206.6,678.8 1206.0,680.0" fill="none" stroke="#ffe600" stroke-width="12.31388888888889" stroke-linecap="round" stroke-linejoin="round" opacity="1.0"/><path d="M1227.6,569.7 C1228.3,571.7 1230.4,577.9 1231.4,581.9 C1232.4,586.0 1233.1,590.0 1233.6,593.8 C1234.1,597.7 1234.2,601.5 1234.3,605.0 C1234.3,608.6 1234.1,612.0 1233.7,615.2 C1233.3,618.4 1232.6,621.2 1231.8,624.1 C1231.0,627.1 1230.1,630.0 1228.9,633.0 C1227.8,636.0 1226.3,639.1 1224.9,642.1 C1223.5,645.1 1222.0,648.0 1220.5,650.9 C1219.0,653.8 1216.7,658.1 1215.9,659.5" fill="none" stroke="#ff1e00" stroke-width="7.577777777777778" stroke-linecap="round" stroke-linejoin="round" opacity="1.0"/><path d="M1222.0,566.0 C1223.7,570.0 1230.2,582.3 1232.0,590.0 C1233.8,597.7 1233.7,605.3 1233.0,612.0 C1232.3,618.7 1228.8,627.0 1228.0,630.0" fill="none" stroke="#ff1e00" stroke-width="9.3" stroke-linecap="round" stroke-linejoin="round" opacity="1.0"/><path d="M1231.0,595.0 L1233.0,606.0" fill="none" stroke="#ffd0c0" stroke-width="3.875" stroke-linecap="round" stroke-linejoin="round" opacity="0.7"/><path d="M1156.0,572.0 C1156.5,576.7 1158.2,591.2 1159.0,600.0 C1159.8,608.8 1160.2,616.7 1161.0,625.0 C1161.8,633.3 1162.5,642.8 1164.0,650.0 C1165.5,657.2 1169.0,665.0 1170.0,668.0" fill="none" stroke="#00e8ff" stroke-width="21.7" stroke-linecap="round" stroke-linejoin="round" opacity="1.0"/><path d="M1158.0,580.0 C1158.5,586.7 1160.2,609.2 1161.0,620.0 C1161.8,630.8 1162.7,640.8 1163.0,645.0" fill="none" stroke="#00e25a" stroke-width="13.950000000000001" stroke-linecap="round" stroke-linejoin="round" opacity="1.0"/><path d="M1160.0,588.0 L1162.0,615.0" fill="none" stroke="#ffe600" stroke-width="6.2" stroke-linecap="round" stroke-linejoin="round" opacity="0.85"/><path d="M1198.0,696.0 C1196.3,699.7 1191.0,710.7 1188.0,718.0 C1185.0,725.3 1181.3,736.3 1180.0,740.0" fill="none" stroke="#00e25a" stroke-width="7.75" stroke-linecap="round" stroke-linejoin="round" opacity="0.8"/><path d="M1120.0,770.0 C1116.7,772.0 1105.7,776.7 1100.0,782.0 C1094.3,787.3 1089.7,794.7 1086.0,802.0 C1082.3,809.3 1079.3,818.0 1078.0,826.0 C1076.7,834.0 1076.7,842.7 1078.0,850.0 C1079.3,857.3 1084.7,866.7 1086.0,870.0" fill="none" stroke="#00e8ff" stroke-width="23.25" stroke-linecap="round" stroke-linejoin="round" opacity="1.0"/><path d="M1120.0,770.0 C1116.7,772.0 1105.7,776.7 1100.0,782.0 C1094.3,787.3 1089.7,794.7 1086.0,802.0 C1082.3,809.3 1079.3,818.0 1078.0,826.0 C1076.7,834.0 1076.7,842.7 1078.0,850.0 C1079.3,857.3 1084.7,866.7 1086.0,870.0" fill="none" stroke="#00e25a" stroke-width="15.5" stroke-linecap="round" stroke-linejoin="round" opacity="1.0"/><path d="M1110.9,774.8 C1109.1,776.0 1103.1,779.2 1100.0,782.0 C1096.9,784.8 1094.6,787.9 1092.2,791.2 C1089.9,794.6 1087.9,798.2 1086.0,802.0 C1084.1,805.8 1082.5,809.8 1081.1,813.8 C1079.8,817.8 1078.7,821.9 1078.0,826.0 C1077.3,830.1 1077.0,834.2 1077.0,838.2 C1077.0,842.2 1077.2,846.1 1078.0,850.0 C1078.8,853.9 1081.3,859.6 1082.0,861.5" fill="none" stroke="#ffe600" stroke-width="10.075000000000001" stroke-linecap="round" stroke-linejoin="round" opacity="1.0"/><path d="M1106.0,886.0 C1108.3,886.7 1115.0,890.3 1120.0,890.0 C1125.0,889.7 1131.3,887.0 1136.0,884.0 C1140.7,881.0 1144.7,876.0 1148.0,872.0 C1151.3,868.0 1154.7,862.0 1156.0,860.0" fill="none" stroke="#00e8ff" stroke-width="23.25" stroke-linecap="round" stroke-linejoin="round" opacity="1.0"/><path d="M1106.0,886.0 C1108.3,886.7 1115.0,890.3 1120.0,890.0 C1125.0,889.7 1131.3,887.0 1136.0,884.0 C1140.7,881.0 1144.7,876.0 1148.0,872.0 C1151.3,868.0 1154.7,862.0 1156.0,860.0" fill="none" stroke="#00e25a" stroke-width="15.5" stroke-linecap="round" stroke-linejoin="round" opacity="1.0"/><path d="M1112.0,888.4 C1113.3,888.6 1117.3,890.1 1120.0,890.0 C1122.7,889.9 1125.5,889.0 1128.1,888.0 C1130.8,887.0 1133.6,885.6 1136.0,884.0 C1138.4,882.4 1140.5,880.4 1142.5,878.4 C1144.5,876.4 1146.3,874.2 1148.0,872.0 C1149.7,869.8 1152.0,866.4 1152.8,865.2" fill="none" stroke="#ffe600" stroke-width="10.075000000000001" stroke-linecap="round" stroke-linejoin="round" opacity="1.0"/><path d="M1120.0,890.0 C1123.0,888.7 1133.0,885.7 1138.0,882.0 C1143.0,878.3 1148.0,870.3 1150.0,868.0" fill="none" stroke="#ffb400" stroke-width="6.2" stroke-linecap="round" stroke-linejoin="round" opacity="0.8"/><path d="M1135.0,838.0 L1148.0,836.0" fill="none" stroke="#ffe600" stroke-width="6.2" stroke-linecap="round" stroke-linejoin="round" opacity="1.0"/><path d="M1118.0,820.0 C1119.7,822.5 1127.0,829.7 1128.0,835.0 C1129.0,840.3 1124.7,849.2 1124.0,852.0" fill="none" stroke="#00e8ff" stroke-width="10.85" stroke-linecap="round" stroke-linejoin="round" opacity="0.8"/></g><rect x="1040" y="400" width="220" height="540" fill="url(#meshdots)" opacity="0.9"/><path d="M1137.5,448.0 C1137.2,450.3 1137.1,457.0 1136.0,462.0 C1134.9,467.0 1132.5,473.3 1131.0,478.0 C1129.5,482.7 1127.7,488.0 1127.0,490.0" fill="none" stroke="#101010" stroke-width="3.2" stroke-linecap="round" opacity="0.8"/><path d="M1181.5,438.0 C1181.8,440.3 1182.2,447.3 1183.0,452.0 C1183.8,456.7 1185.5,463.7 1186.0,466.0" fill="none" stroke="#101010" stroke-width="3.2" stroke-linecap="round" opacity="0.8"/><path d="M1210.0,462.0 C1210.2,464.0 1210.3,470.0 1211.0,474.0 C1211.7,478.0 1213.5,484.0 1214.0,486.0" fill="none" stroke="#101010" stroke-width="3.2" stroke-linecap="round" opacity="0.8"/><path d="M1231.0,494.0 C1231.0,495.8 1230.7,501.3 1231.0,505.0 C1231.3,508.7 1232.7,514.2 1233.0,516.0" fill="none" stroke="#101010" stroke-width="3.2" stroke-linecap="round" opacity="0.8"/><path d="M1067.5,483.5 C1069.2,473.1 1068.9,467.2 1071.0,458.5 C1073.1,449.8 1076.4,438.5 1080.0,431.0 C1083.6,423.5 1087.5,417.7 1092.5,413.5 C1097.5,409.3 1104.2,406.0 1110.0,406.0 C1115.8,406.0 1123.2,409.3 1127.5,413.5 C1131.8,417.7 1134.4,424.6 1136.0,431.0 C1137.6,437.4 1136.4,449.5 1137.0,452.0 C1137.6,454.5 1138.6,450.2 1139.5,446.0 C1140.4,441.8 1140.8,431.4 1142.5,427.0 C1144.2,422.6 1147.1,421.1 1150.0,419.5 C1152.9,417.9 1156.7,417.4 1160.0,417.5 C1163.3,417.6 1167.1,418.4 1170.0,420.0 C1172.9,421.6 1175.7,423.7 1177.5,427.0 C1179.3,430.3 1179.8,438.4 1181.0,440.0 C1182.2,441.6 1182.7,437.4 1185.0,436.5 C1187.3,435.6 1192.0,434.1 1195.0,434.5 C1198.0,434.9 1200.8,436.8 1203.0,439.0 C1205.2,441.2 1206.9,444.0 1208.0,448.0 C1209.1,452.0 1208.7,459.7 1209.5,463.0 C1210.3,466.3 1211.1,467.2 1213.0,468.0 C1214.9,468.8 1218.7,466.7 1221.0,467.5 C1223.3,468.3 1225.4,470.4 1227.0,473.0 C1228.6,475.6 1229.8,479.2 1230.5,483.0 C1231.2,486.8 1230.1,493.1 1231.0,496.0 C1231.9,498.9 1234.0,499.0 1236.0,500.5 C1238.0,502.0 1241.2,502.1 1243.0,505.0 C1244.8,507.9 1246.2,511.3 1247.0,518.0 C1247.8,524.7 1247.9,536.2 1248.0,545.0 C1248.1,553.8 1247.8,562.5 1247.5,571.0 C1247.2,579.5 1246.8,587.7 1246.0,596.0 C1245.2,604.3 1244.0,612.7 1242.5,621.0 C1241.0,629.3 1239.1,638.5 1237.0,646.0 C1234.9,653.5 1232.8,656.4 1230.0,666.0 C1227.2,675.6 1223.3,691.0 1220.0,703.5 C1216.7,716.0 1213.3,726.4 1210.0,741.0 C1206.7,755.6 1203.3,774.3 1200.0,791.0 C1196.7,807.7 1194.2,826.4 1190.0,841.0 C1185.8,855.6 1181.7,867.7 1175.0,878.5 C1168.3,889.3 1157.5,899.3 1150.0,906.0 C1142.5,912.7 1137.5,914.3 1130.0,918.5 C1122.5,922.7 1111.2,928.9 1105.0,931.0 C1098.8,933.1 1097.0,932.5 1092.5,931.0 C1088.0,929.5 1082.2,926.3 1078.0,922.0 C1073.8,917.7 1070.7,914.3 1067.0,905.0 C1063.3,895.7 1058.8,877.7 1056.0,866.0 C1053.2,854.3 1051.5,845.4 1050.5,835.0 C1049.5,824.6 1049.9,819.2 1050.0,803.5 C1050.1,787.8 1050.2,763.9 1051.0,741.0 C1051.8,718.1 1053.9,681.8 1055.0,666.0 C1056.1,650.2 1056.8,661.8 1057.5,646.0 C1058.2,630.2 1058.4,591.8 1059.0,571.0 C1059.6,550.2 1059.6,535.6 1061.0,521.0 C1062.4,506.4 1065.8,493.9 1067.5,483.5Z" fill="none" stroke="#0c0c0c" stroke-width="5" opacity="0.7"/></g><path d="M1131.5,468 Q1130,476 1128,485 Q1132,477 1133.5,469Z" fill="#fff" stroke="#fff" stroke-width="1.6"/></g></g>
<g transform="translate(667.5,0)"><g filter="url(#edge)"><g clip-path="url(#footclip)"><rect x="1040" y="400" width="220" height="540" fill="#6a6a6a"/><rect x="1040" y="400" width="220" height="540" filter="url(#speck3)"/><g filter="url(#heatfx3)"><path d="M1078.0,499.0 C1081.2,495.7 1086.3,492.7 1092.0,492.0 C1097.7,491.3 1104.7,492.8 1112.0,495.0 C1119.3,497.2 1128.3,502.5 1136.0,505.0 C1143.7,507.5 1150.7,509.0 1158.0,510.0 C1165.3,511.0 1173.0,510.2 1180.0,511.0 C1187.0,511.8 1193.3,512.8 1200.0,515.0 C1206.7,517.2 1214.0,520.5 1220.0,524.0 C1226.0,527.5 1231.8,531.3 1236.0,536.0 C1240.2,540.7 1243.1,545.5 1245.0,552.0 C1246.9,558.5 1247.2,567.0 1247.5,575.0 C1247.8,583.0 1247.6,591.7 1247.0,600.0 C1246.4,608.3 1245.3,617.3 1244.0,625.0 C1242.7,632.7 1240.8,639.7 1239.0,646.0 C1237.2,652.3 1235.5,657.7 1233.5,663.0 C1231.5,668.3 1229.4,672.3 1227.0,678.0 C1224.6,683.7 1221.8,690.8 1219.0,697.0 C1216.2,703.2 1213.3,709.3 1210.0,715.0 C1206.7,720.7 1202.0,725.0 1199.0,731.0 C1196.0,737.0 1193.1,743.7 1192.0,751.0 C1190.9,758.3 1192.4,766.8 1192.5,775.0 C1192.6,783.2 1192.6,791.5 1192.5,800.0 C1192.4,808.5 1193.1,817.7 1192.0,826.0 C1190.9,834.3 1189.3,841.7 1186.0,850.0 C1182.7,858.3 1177.3,868.0 1172.0,876.0 C1166.7,884.0 1160.7,892.5 1154.0,898.0 C1147.3,903.5 1139.0,906.3 1132.0,909.0 C1125.0,911.7 1118.2,913.8 1112.0,914.0 C1105.8,914.2 1100.5,912.7 1095.0,910.0 C1089.5,907.3 1083.7,903.3 1079.0,898.0 C1074.3,892.7 1070.2,885.0 1067.0,878.0 C1063.8,871.0 1061.2,864.2 1059.5,856.0 C1057.8,847.8 1057.0,838.1 1057.0,828.5 C1057.0,818.9 1057.0,807.7 1059.5,798.5 C1062.0,789.3 1065.2,780.6 1072.0,773.5 C1078.8,766.4 1090.3,761.0 1100.0,756.0 C1109.7,751.0 1121.7,746.8 1130.0,743.5 C1138.3,740.2 1145.4,740.6 1150.0,736.0 C1154.6,731.4 1156.7,723.5 1157.5,716.0 C1158.3,708.5 1155.8,699.3 1155.0,691.0 C1154.2,682.7 1153.7,672.8 1152.5,666.0 C1151.3,659.2 1149.3,655.2 1148.0,650.0 C1146.7,644.8 1145.3,640.0 1144.5,635.0 C1143.7,630.0 1144.4,624.2 1143.0,620.0 C1141.6,615.8 1139.8,612.5 1136.0,610.0 C1132.2,607.5 1125.3,606.8 1120.0,605.0 C1114.7,603.2 1109.0,601.8 1104.0,599.0 C1099.0,596.2 1094.2,592.5 1090.0,588.0 C1085.8,583.5 1081.8,578.0 1079.0,572.0 C1076.2,566.0 1074.3,559.0 1073.0,552.0 C1071.7,545.0 1071.0,536.7 1071.0,530.0 C1071.0,523.3 1071.8,517.2 1073.0,512.0 C1074.2,506.8 1074.8,502.3 1078.0,499.0Z" fill="#0004f0"/><ellipse cx="1111.0" cy="451.0" rx="25" ry="25" fill="#0004f0" opacity="1.0"/><path d="M1100.0,474.0 C1101.7,475.3 1105.8,479.7 1110.0,482.0 C1114.2,484.3 1120.0,486.8 1125.0,488.0 C1130.0,489.2 1137.5,488.8 1140.0,489.0" fill="none" stroke="#0004f0" stroke-width="10" stroke-linecap="round" stroke-linejoin="round" opacity="1.0"/><path d="M1140.0,489.0 C1142.5,488.3 1150.3,486.2 1155.0,485.0 C1159.7,483.8 1163.5,482.5 1168.0,482.0 C1172.5,481.5 1177.5,480.7 1182.0,482.0 C1186.5,483.3 1191.0,486.7 1195.0,490.0 C1199.0,493.3 1204.2,500.0 1206.0,502.0" fill="none" stroke="#0004f0" stroke-width="7" stroke-linecap="round" stroke-linejoin="round" opacity="1.0"/><ellipse cx="1205.0" cy="505.0" rx="11" ry="11" fill="#0004f0" opacity="1.0"/><ellipse cx="1183.0" cy="476.0" rx="8" ry="8" fill="#0004f0" opacity="1.0"/><ellipse cx="1155.0" cy="464.0" rx="5" ry="5" fill="#0004f0" opacity="1.0"/><path d="M1087.6,507.8 L1084.3,523.9 L1084.5,539.7 L1087.9,558.7 L1093.6,571.5 L1100.8,580.4 L1110.3,587.6 L1136.5,596.0 L1143.6,599.5 L1150.0,605.5 L1154.5,613.5 L1156.6,621.4 L1157.9,636.0 L1165.4,664.1 L1170.5,708.9 L1170.0,720.5 L1167.6,730.9 L1163.9,739.1 L1159.1,745.3 L1150.8,750.8 L1134.6,755.7 L1112.8,764.3 L1088.3,777.1 L1083.2,780.8 L1078.4,786.3 L1072.9,798.9 L1070.3,814.1 L1070.1,835.1 L1071.7,850.7 L1075.8,865.5 L1083.7,882.1 L1090.1,890.8 L1100.7,898.3 L1106.4,900.4 L1111.6,901.0 L1120.4,899.3 L1135.3,893.8 L1142.1,890.5 L1147.5,886.4 L1155.3,877.3 L1163.0,866.0 L1169.9,853.9 L1174.9,842.5 L1177.8,832.4 L1179.5,819.0 L1179.5,775.2 L1178.6,756.9 L1179.9,745.2 L1182.7,735.7 L1187.3,725.3 L1198.9,708.3 L1206.1,693.9 L1220.7,660.1 L1225.2,646.8 L1230.2,627.9 L1233.2,608.2 L1234.6,587.1 L1234.1,566.8 L1232.0,554.0 L1226.4,544.7 L1215.5,536.4 L1200.4,528.9 L1183.3,524.5 L1159.4,523.2 L1144.1,520.7 L1128.7,516.2 L1110.3,508.2 L1099.3,505.3 L1092.7,505.1Z" fill="#0044ff" opacity="0.8"/><g clip-path="url(#cclip3)"><rect x="1040" y="400" width="220" height="540" filter="url(#mott3)" opacity="0.95"/></g><path d="M1087.6,507.8 L1084.3,523.9 L1084.5,539.7 L1087.9,558.7 L1093.6,571.5 L1100.8,580.4 L1110.3,587.6 L1136.5,596.0 L1143.6,599.5 L1150.0,605.5 L1154.5,613.5 L1156.6,621.4 L1157.9,636.0 L1165.4,664.1 L1170.5,708.9 L1170.0,720.5 L1167.6,730.9 L1163.9,739.1 L1159.1,745.3 L1150.8,750.8 L1134.6,755.7 L1112.8,764.3 L1088.3,777.1 L1083.2,780.8 L1078.4,786.3 L1072.9,798.9 L1070.3,814.1 L1070.1,835.1 L1071.7,850.7 L1075.8,865.5 L1083.7,882.1 L1090.1,890.8 L1100.7,898.3 L1106.4,900.4 L1111.6,901.0 L1120.4,899.3 L1135.3,893.8 L1142.1,890.5 L1147.5,886.4 L1155.3,877.3 L1163.0,866.0 L1169.9,853.9 L1174.9,842.5 L1177.8,832.4 L1179.5,819.0 L1179.5,775.2 L1178.6,756.9 L1179.9,745.2 L1182.7,735.7 L1187.3,725.3 L1198.9,708.3 L1206.1,693.9 L1220.7,660.1 L1225.2,646.8 L1230.2,627.9 L1233.2,608.2 L1234.6,587.1 L1234.1,566.8 L1232.0,554.0 L1226.4,544.7 L1215.5,536.4 L1200.4,528.9 L1183.3,524.5 L1159.4,523.2 L1144.1,520.7 L1128.7,516.2 L1110.3,508.2 L1099.3,505.3 L1092.7,505.1Z" fill="none" stroke="#00e8ff" stroke-width="8.5" stroke-linejoin="round" opacity="0.9"/><ellipse cx="1111.0" cy="451.0" rx="17" ry="17" fill="#00e8ff" opacity="1.0"/><ellipse cx="1114.0" cy="452.0" rx="12" ry="12" fill="#00e25a" opacity="1.0"/><ellipse cx="1117.0" cy="454.0" rx="8" ry="6" fill="#ffe600" opacity="1.0"/><path d="M1098.0,508.0 C1096.2,511.3 1089.3,521.0 1087.0,528.0 C1084.7,535.0 1083.7,542.3 1084.0,550.0 C1084.3,557.7 1086.3,567.3 1089.0,574.0 C1091.7,580.7 1095.8,586.0 1100.0,590.0 C1104.2,594.0 1111.7,596.7 1114.0,598.0" fill="none" stroke="#00e8ff" stroke-width="25.833333333333336" stroke-linecap="round" stroke-linejoin="round" opacity="1.0"/><path d="M1098.0,508.0 C1096.2,511.3 1089.3,521.0 1087.0,528.0 C1084.7,535.0 1083.7,542.3 1084.0,550.0 C1084.3,557.7 1086.3,567.3 1089.0,574.0 C1091.7,580.7 1095.8,586.0 1100.0,590.0 C1104.2,594.0 1111.7,596.7 1114.0,598.0" fill="none" stroke="#00e25a" stroke-width="17.22222222222222" stroke-linecap="round" stroke-linejoin="round" opacity="1.0"/><path d="M1090.0,522.0 C1089.3,526.3 1086.0,540.0 1086.0,548.0 C1086.0,556.0 1089.3,566.3 1090.0,570.0" fill="none" stroke="#ffe600" stroke-width="6.9750000000000005" stroke-linecap="round" stroke-linejoin="round" opacity="0.95"/><path d="M1088.0,530.0 L1086.0,550.0" fill="none" stroke="#ffa000" stroke-width="4.65" stroke-linecap="round" stroke-linejoin="round" opacity="0.85"/><path d="M1110.0,505.0 C1114.2,506.7 1126.7,512.0 1135.0,515.0 C1143.3,518.0 1151.7,520.0 1160.0,523.0 C1168.3,526.0 1180.8,531.3 1185.0,533.0" fill="none" stroke="#00e8ff" stroke-width="10.85" stroke-linecap="round" stroke-linejoin="round" opacity="0.9"/><path d="M1190.0,532.0 C1193.0,534.2 1202.3,540.0 1208.0,545.0 C1213.7,550.0 1219.8,554.8 1224.0,562.0 C1228.2,569.2 1231.2,579.7 1233.0,588.0 C1234.8,596.3 1235.3,604.7 1235.0,612.0 C1234.7,619.3 1233.0,625.7 1231.0,632.0 C1229.0,638.3 1225.8,644.0 1223.0,650.0 C1220.2,656.0 1216.7,662.3 1214.0,668.0 C1211.3,673.7 1209.2,678.7 1207.0,684.0 C1204.8,689.3 1202.0,697.3 1201.0,700.0" fill="none" stroke="#00e8ff" stroke-width="31.0" stroke-linecap="round" stroke-linejoin="round" opacity="1.0"/><path d="M1190.0,532.0 C1193.0,534.2 1202.3,540.0 1208.0,545.0 C1213.7,550.0 1219.8,554.8 1224.0,562.0 C1228.2,569.2 1231.2,579.7 1233.0,588.0 C1234.8,596.3 1235.3,604.7 1235.0,612.0 C1234.7,619.3 1233.0,625.7 1231.0,632.0 C1229.0,638.3 1225.8,644.0 1223.0,650.0 C1220.2,656.0 1216.7,662.3 1214.0,668.0 C1211.3,673.7 1209.2,678.7 1207.0,684.0 C1204.8,689.3 1202.0,697.3 1201.0,700.0" fill="none" stroke="#00e25a" stroke-width="20.666666666666668" stroke-linecap="round" stroke-linejoin="round" opacity="1.0"/><path d="M1208.0,545.0 C1209.4,546.3 1213.9,549.9 1216.6,552.7 C1219.2,555.5 1221.9,558.4 1224.0,562.0 C1226.1,565.6 1227.9,570.2 1229.4,574.6 C1230.9,578.9 1232.1,583.7 1233.0,588.0 C1233.9,592.3 1234.5,596.4 1234.8,600.4 C1235.1,604.4 1235.2,608.3 1235.0,612.0 C1234.8,615.7 1234.3,619.0 1233.6,622.4 C1233.0,625.7 1232.1,628.9 1231.0,632.0 C1229.9,635.1 1228.6,638.1 1227.3,641.1 C1226.0,644.1 1224.5,647.0 1223.0,650.0 C1221.5,653.0 1219.9,656.1 1218.4,659.1 C1216.9,662.1 1215.4,665.2 1214.0,668.0 C1212.6,670.8 1211.5,673.5 1210.3,676.1 C1209.1,678.8 1207.6,682.7 1207.0,684.0" fill="none" stroke="#ffe600" stroke-width="13.433333333333334" stroke-linecap="round" stroke-linejoin="round" opacity="1.0"/><path d="M1226.0,565.8 C1226.8,568.1 1229.5,574.8 1230.8,579.1 C1232.1,583.5 1233.1,588.0 1233.8,592.2 C1234.5,596.4 1234.9,600.5 1235.0,604.4 C1235.2,608.3 1235.1,612.0 1234.7,615.6 C1234.4,619.1 1233.7,622.4 1232.9,625.6 C1232.0,628.9 1231.1,632.0 1229.9,635.1 C1228.7,638.2 1227.3,641.1 1225.9,644.1 C1224.5,647.1 1223.0,650.0 1221.5,653.0 C1220.0,656.0 1217.7,660.6 1216.9,662.1" fill="none" stroke="#ff1e00" stroke-width="8.266666666666666" stroke-linecap="round" stroke-linejoin="round" opacity="1.0"/><path d="M1216.0,553.0 C1218.3,557.2 1226.8,569.2 1230.0,578.0 C1233.2,586.8 1234.8,597.7 1235.0,606.0 C1235.2,614.3 1231.7,624.3 1231.0,628.0" fill="none" stroke="#ff1e00" stroke-width="10.85" stroke-linecap="round" stroke-linejoin="round" opacity="1.0"/><path d="M1231.0,582.0 L1234.0,606.0" fill="none" stroke="#e0e0e0" stroke-width="4.65" stroke-linecap="round" stroke-linejoin="round" opacity="0.85"/><path d="M1156.0,570.0 C1156.7,575.0 1159.0,590.8 1160.0,600.0 C1161.0,609.2 1161.3,616.7 1162.0,625.0 C1162.7,633.3 1163.0,642.8 1164.0,650.0 C1165.0,657.2 1167.3,665.0 1168.0,668.0" fill="none" stroke="#00e8ff" stroke-width="23.25" stroke-linecap="round" stroke-linejoin="round" opacity="1.0"/><path d="M1158.0,578.0 C1158.7,585.0 1161.0,608.3 1162.0,620.0 C1163.0,631.7 1163.7,643.3 1164.0,648.0" fill="none" stroke="#00e25a" stroke-width="16.275000000000002" stroke-linecap="round" stroke-linejoin="round" opacity="1.0"/><path d="M1159.0,584.0 L1162.0,628.0" fill="none" stroke="#ffe600" stroke-width="9.3" stroke-linecap="round" stroke-linejoin="round" opacity="1.0"/><path d="M1199.0,696.0 C1197.3,699.7 1192.0,710.7 1189.0,718.0 C1186.0,725.3 1182.3,736.3 1181.0,740.0" fill="none" stroke="#00e25a" stroke-width="9.3" stroke-linecap="round" stroke-linejoin="round" opacity="0.9"/><path d="M1125.0,766.0 C1121.2,768.0 1108.5,772.7 1102.0,778.0 C1095.5,783.3 1090.3,790.3 1086.0,798.0 C1081.7,805.7 1077.8,815.3 1076.0,824.0 C1074.2,832.7 1073.8,842.0 1075.0,850.0 C1076.2,858.0 1079.2,866.0 1083.0,872.0 C1086.8,878.0 1092.5,882.8 1098.0,886.0 C1103.5,889.2 1109.7,891.0 1116.0,891.0 C1122.3,891.0 1130.3,888.8 1136.0,886.0 C1141.7,883.2 1146.0,878.7 1150.0,874.0 C1154.0,869.3 1157.7,863.7 1160.0,858.0 C1162.3,852.3 1163.3,843.0 1164.0,840.0" fill="none" stroke="#00e8ff" stroke-width="25.833333333333336" stroke-linecap="round" stroke-linejoin="round" opacity="1.0"/><path d="M1125.0,766.0 C1121.2,768.0 1108.5,772.7 1102.0,778.0 C1095.5,783.3 1090.3,790.3 1086.0,798.0 C1081.7,805.7 1077.8,815.3 1076.0,824.0 C1074.2,832.7 1073.8,842.0 1075.0,850.0 C1076.2,858.0 1079.2,866.0 1083.0,872.0 C1086.8,878.0 1092.5,882.8 1098.0,886.0 C1103.5,889.2 1109.7,891.0 1116.0,891.0 C1122.3,891.0 1130.3,888.8 1136.0,886.0 C1141.7,883.2 1146.0,878.7 1150.0,874.0 C1154.0,869.3 1157.7,863.7 1160.0,858.0 C1162.3,852.3 1163.3,843.0 1164.0,840.0" fill="none" stroke="#00e25a" stroke-width="17.22222222222222" stroke-linecap="round" stroke-linejoin="round" opacity="1.0"/><path d="M1095.9,783.9 C1094.6,785.6 1090.6,790.5 1088.2,794.2 C1085.9,798.0 1083.7,802.0 1081.9,806.2 C1080.0,810.5 1078.3,815.2 1077.1,819.6 C1075.9,824.0 1075.1,828.4 1074.7,832.8 C1074.2,837.2 1074.2,841.7 1074.5,845.9 C1074.9,850.1 1075.6,854.1 1076.7,857.9 C1077.8,861.8 1079.4,865.6 1081.2,868.8 C1082.9,872.1 1085.0,875.0 1087.4,877.6 C1089.7,880.2 1092.5,882.4 1095.2,884.3 C1098.0,886.1 1100.8,887.6 1103.7,888.7 C1106.6,889.8 1109.7,890.6 1112.8,890.8 C1116.0,891.1 1119.4,890.9 1122.7,890.3 C1126.1,889.8 1129.9,888.6 1133.0,887.4 C1136.1,886.1 1138.8,884.5 1141.3,882.7 C1143.8,880.8 1145.9,878.6 1148.0,876.3 C1150.1,874.0 1152.9,870.2 1153.9,869.0" fill="none" stroke="#ffe600" stroke-width="11.194444444444445" stroke-linecap="round" stroke-linejoin="round" opacity="1.0"/><path d="M1100.0,780.0 C1097.7,783.3 1089.8,792.3 1086.0,800.0 C1082.2,807.7 1078.5,817.7 1077.0,826.0 C1075.5,834.3 1075.7,842.3 1077.0,850.0 C1078.3,857.7 1081.2,866.0 1085.0,872.0 C1088.8,878.0 1094.5,883.0 1100.0,886.0 C1105.5,889.0 1112.0,890.3 1118.0,890.0 C1124.0,889.7 1130.7,887.2 1136.0,884.0 C1141.3,880.8 1147.7,873.2 1150.0,871.0" fill="none" stroke="#ffb000" stroke-width="6.9750000000000005" stroke-linecap="round" stroke-linejoin="round" opacity="0.85"/><path d="M1132.0,818.0 C1134.3,818.7 1141.7,819.3 1146.0,822.0 C1150.3,824.7 1156.0,832.0 1158.0,834.0" fill="none" stroke="#ffe600" stroke-width="6.9750000000000005" stroke-linecap="round" stroke-linejoin="round" opacity="1.0"/><path d="M1112.0,830.0 C1113.3,832.5 1119.3,840.3 1120.0,845.0 C1120.7,849.7 1116.7,855.8 1116.0,858.0" fill="none" stroke="#00e25a" stroke-width="9.3" stroke-linecap="round" stroke-linejoin="round" opacity="0.9"/><path d="M1150.0,776.0 L1162.0,795.0" fill="none" stroke="#00e8ff" stroke-width="12.4" stroke-linecap="round" stroke-linejoin="round" opacity="0.7"/></g><rect x="1040" y="400" width="220" height="540" fill="url(#meshdots)" opacity="0.9"/><path d="M1137.5,448.0 C1137.2,450.3 1137.1,457.0 1136.0,462.0 C1134.9,467.0 1132.5,473.3 1131.0,478.0 C1129.5,482.7 1127.7,488.0 1127.0,490.0" fill="none" stroke="#101010" stroke-width="3.2" stroke-linecap="round" opacity="0.8"/><path d="M1181.5,438.0 C1181.8,440.3 1182.2,447.3 1183.0,452.0 C1183.8,456.7 1185.5,463.7 1186.0,466.0" fill="none" stroke="#101010" stroke-width="3.2" stroke-linecap="round" opacity="0.8"/><path d="M1210.0,462.0 C1210.2,464.0 1210.3,470.0 1211.0,474.0 C1211.7,478.0 1213.5,484.0 1214.0,486.0" fill="none" stroke="#101010" stroke-width="3.2" stroke-linecap="round" opacity="0.8"/><path d="M1231.0,494.0 C1231.0,495.8 1230.7,501.3 1231.0,505.0 C1231.3,508.7 1232.7,514.2 1233.0,516.0" fill="none" stroke="#101010" stroke-width="3.2" stroke-linecap="round" opacity="0.8"/><path d="M1067.5,483.5 C1069.2,473.1 1068.9,467.2 1071.0,458.5 C1073.1,449.8 1076.4,438.5 1080.0,431.0 C1083.6,423.5 1087.5,417.7 1092.5,413.5 C1097.5,409.3 1104.2,406.0 1110.0,406.0 C1115.8,406.0 1123.2,409.3 1127.5,413.5 C1131.8,417.7 1134.4,424.6 1136.0,431.0 C1137.6,437.4 1136.4,449.5 1137.0,452.0 C1137.6,454.5 1138.6,450.2 1139.5,446.0 C1140.4,441.8 1140.8,431.4 1142.5,427.0 C1144.2,422.6 1147.1,421.1 1150.0,419.5 C1152.9,417.9 1156.7,417.4 1160.0,417.5 C1163.3,417.6 1167.1,418.4 1170.0,420.0 C1172.9,421.6 1175.7,423.7 1177.5,427.0 C1179.3,430.3 1179.8,438.4 1181.0,440.0 C1182.2,441.6 1182.7,437.4 1185.0,436.5 C1187.3,435.6 1192.0,434.1 1195.0,434.5 C1198.0,434.9 1200.8,436.8 1203.0,439.0 C1205.2,441.2 1206.9,444.0 1208.0,448.0 C1209.1,452.0 1208.7,459.7 1209.5,463.0 C1210.3,466.3 1211.1,467.2 1213.0,468.0 C1214.9,468.8 1218.7,466.7 1221.0,467.5 C1223.3,468.3 1225.4,470.4 1227.0,473.0 C1228.6,475.6 1229.8,479.2 1230.5,483.0 C1231.2,486.8 1230.1,493.1 1231.0,496.0 C1231.9,498.9 1234.0,499.0 1236.0,500.5 C1238.0,502.0 1241.2,502.1 1243.0,505.0 C1244.8,507.9 1246.2,511.3 1247.0,518.0 C1247.8,524.7 1247.9,536.2 1248.0,545.0 C1248.1,553.8 1247.8,562.5 1247.5,571.0 C1247.2,579.5 1246.8,587.7 1246.0,596.0 C1245.2,604.3 1244.0,612.7 1242.5,621.0 C1241.0,629.3 1239.1,638.5 1237.0,646.0 C1234.9,653.5 1232.8,656.4 1230.0,666.0 C1227.2,675.6 1223.3,691.0 1220.0,703.5 C1216.7,716.0 1213.3,726.4 1210.0,741.0 C1206.7,755.6 1203.3,774.3 1200.0,791.0 C1196.7,807.7 1194.2,826.4 1190.0,841.0 C1185.8,855.6 1181.7,867.7 1175.0,878.5 C1168.3,889.3 1157.5,899.3 1150.0,906.0 C1142.5,912.7 1137.5,914.3 1130.0,918.5 C1122.5,922.7 1111.2,928.9 1105.0,931.0 C1098.8,933.1 1097.0,932.5 1092.5,931.0 C1088.0,929.5 1082.2,926.3 1078.0,922.0 C1073.8,917.7 1070.7,914.3 1067.0,905.0 C1063.3,895.7 1058.8,877.7 1056.0,866.0 C1053.2,854.3 1051.5,845.4 1050.5,835.0 C1049.5,824.6 1049.9,819.2 1050.0,803.5 C1050.1,787.8 1050.2,763.9 1051.0,741.0 C1051.8,718.1 1053.9,681.8 1055.0,666.0 C1056.1,650.2 1056.8,661.8 1057.5,646.0 C1058.2,630.2 1058.4,591.8 1059.0,571.0 C1059.6,550.2 1059.6,535.6 1061.0,521.0 C1062.4,506.4 1065.8,493.9 1067.5,483.5Z" fill="none" stroke="#0c0c0c" stroke-width="5" opacity="0.7"/></g><path d="M1131.5,468 Q1130,476 1128,485 Q1132,477 1133.5,469Z" fill="#fff" stroke="#fff" stroke-width="1.6"/></g></g>
</svg>
</body>
</html>
